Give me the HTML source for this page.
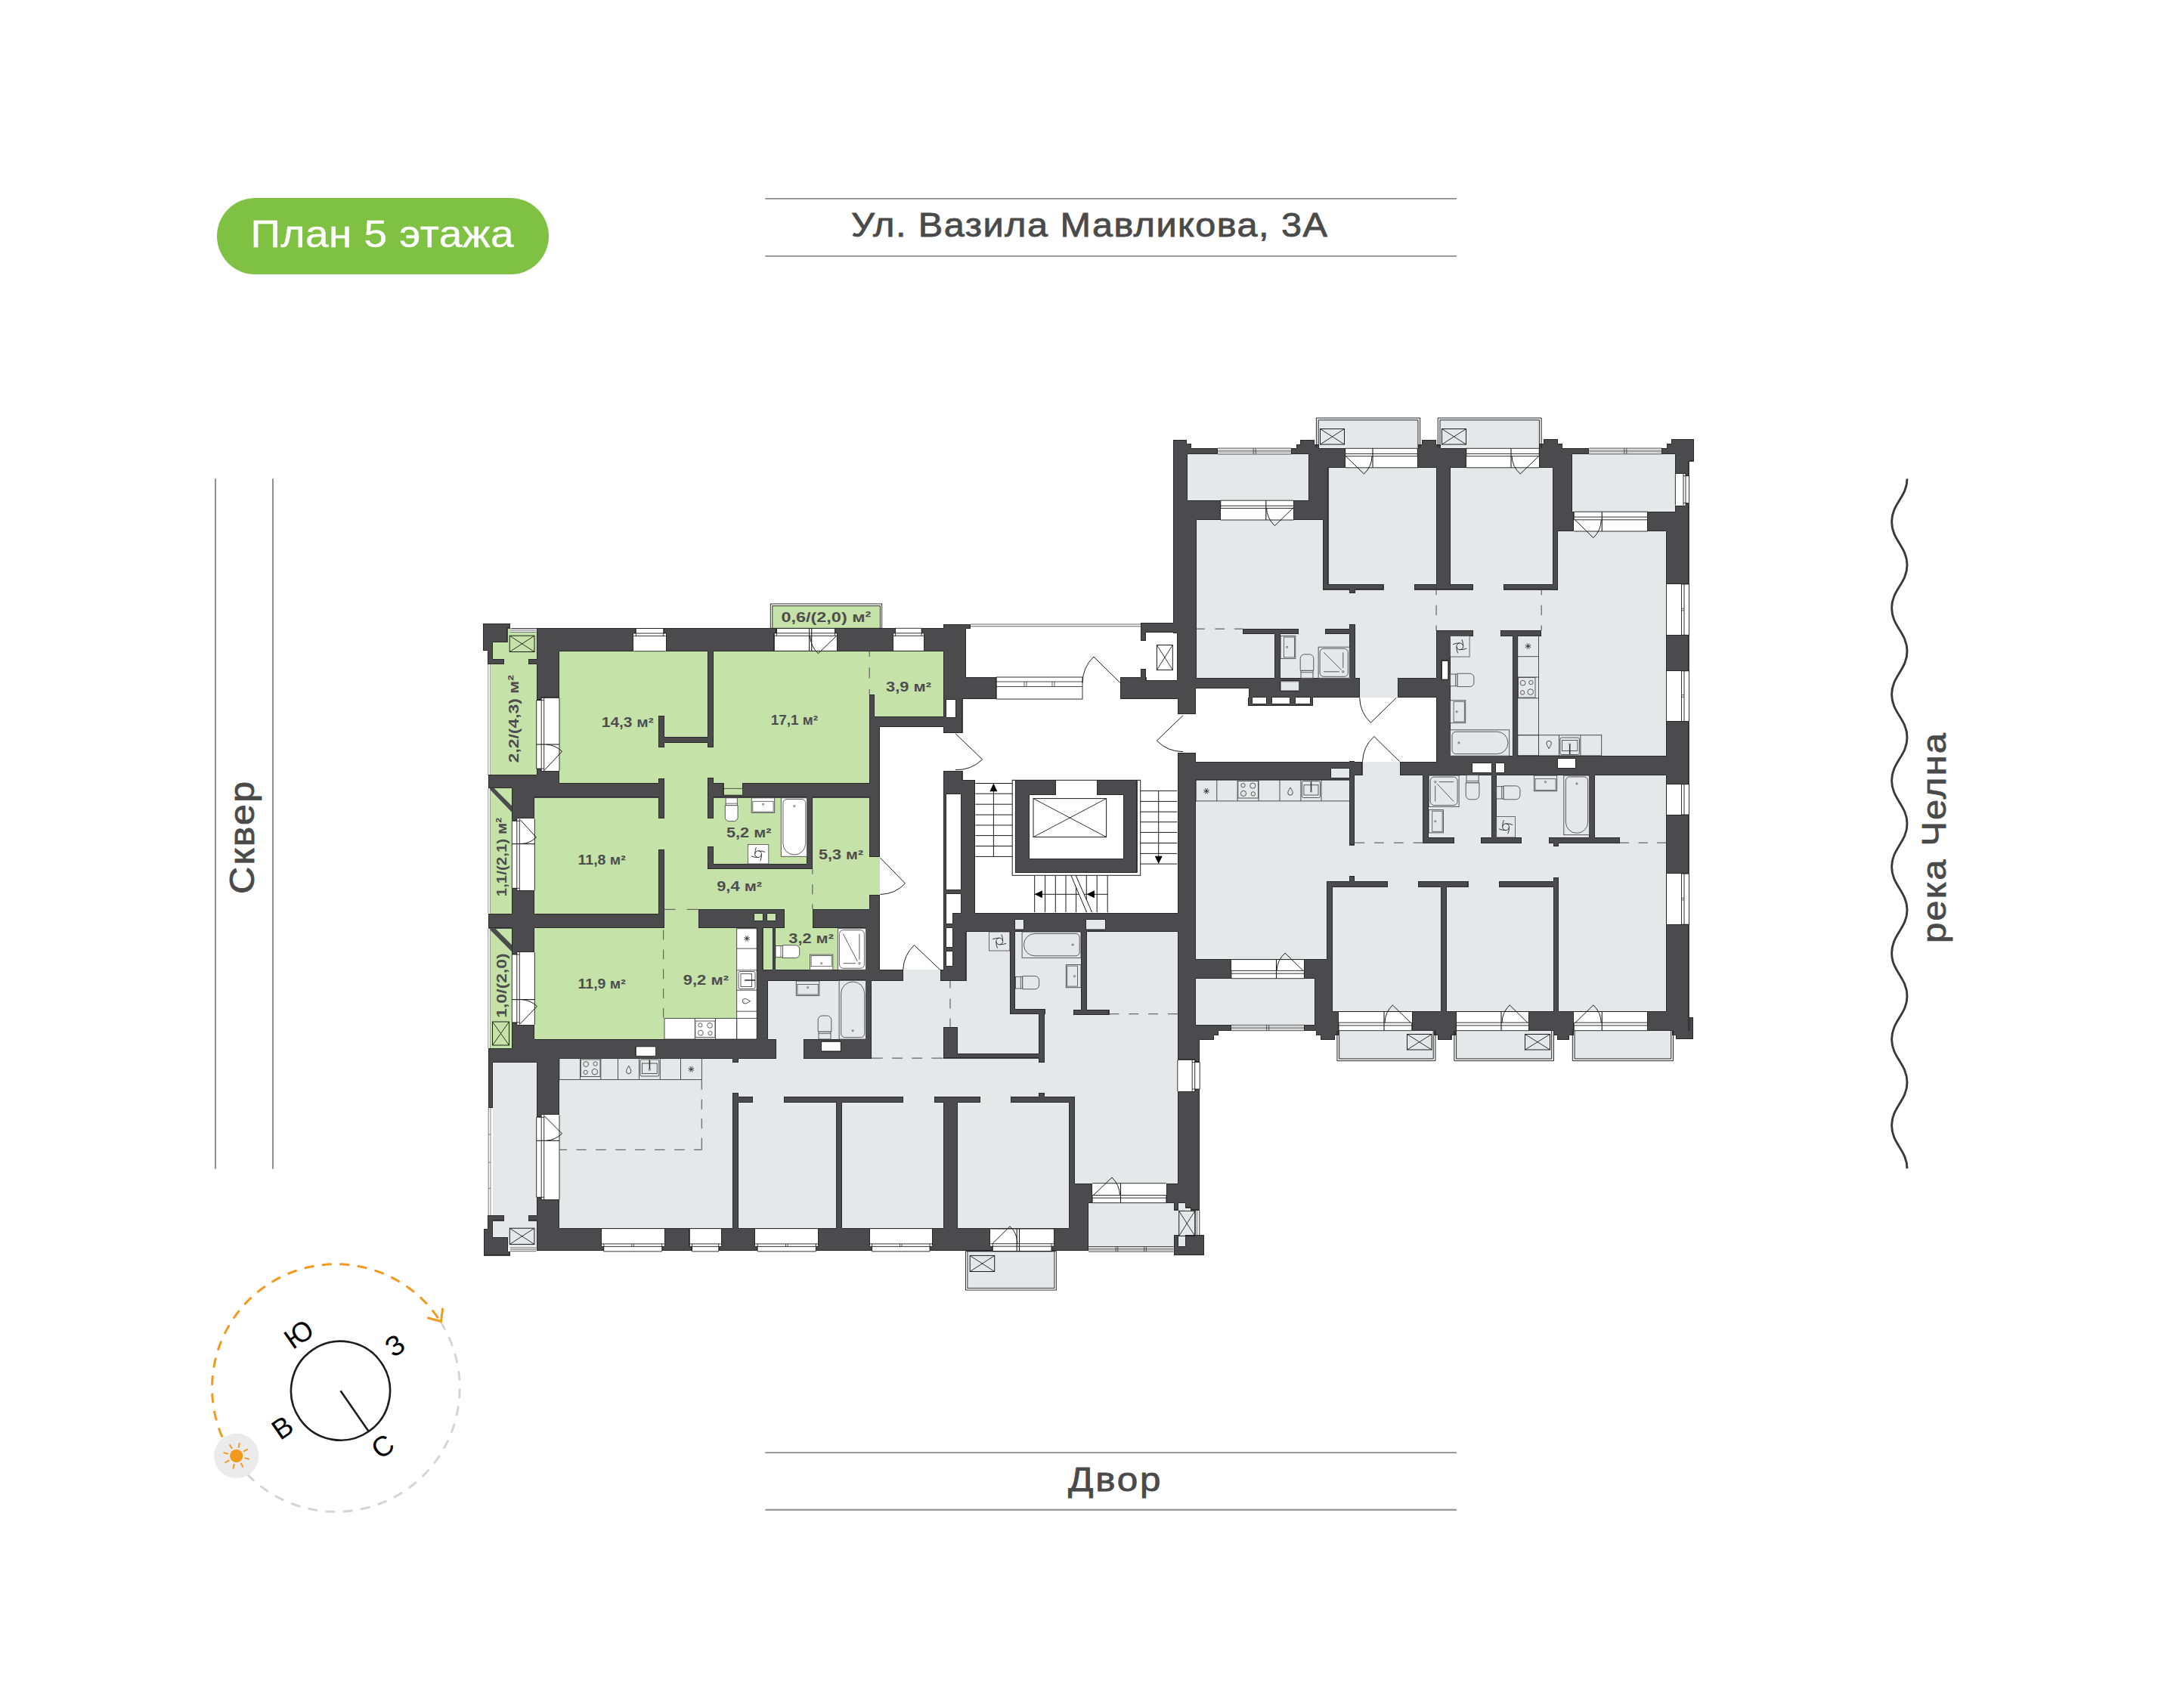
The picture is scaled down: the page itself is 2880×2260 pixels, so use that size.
<!DOCTYPE html>
<html lang="ru"><head><meta charset="utf-8"><title>План 5 этажа</title>
<style>
html,body{margin:0;padding:0;background:#fff;}
body{width:2880px;height:2260px;overflow:hidden;font-family:"Liberation Sans",sans-serif;}
svg{display:block}
svg text{font-family:"Liberation Sans",sans-serif;}
</style></head><body>
<svg width="2880" height="2260" viewBox="0 0 2880 2260">
<rect x="287" y="262" width="439" height="101" rx="50.5" fill="#7fc143"/>
<text transform="translate(331.5,326.8) rotate(0) scale(1.1,1)" font-size="50" font-weight="400" fill="#fff" stroke="#fff" stroke-width="0.4" stroke-linejoin="round" textLength="316.4" lengthAdjust="spacing">План 5 этажа</text>
<line x1="1012.4" y1="262.9" x2="1927" y2="262.9" stroke="#8c8c8c" stroke-width="1.9"/>
<line x1="1012.4" y1="338.9" x2="1927" y2="338.9" stroke="#8c8c8c" stroke-width="1.9"/>
<text transform="translate(1126,313.3) rotate(0) scale(1.1,1)" font-size="44.2" font-weight="400" fill="#4a4a4a" stroke="#4a4a4a" stroke-width="0.8" stroke-linejoin="round" textLength="572.7" lengthAdjust="spacing">Ул. Вазила Мавликова, 3А</text>
<line x1="1012.4" y1="1922.1" x2="1927" y2="1922.1" stroke="#8c8c8c" stroke-width="1.9"/>
<line x1="1012.4" y1="1997.8" x2="1927" y2="1997.8" stroke="#8c8c8c" stroke-width="1.9"/>
<text transform="translate(1413,1972.6) rotate(0) scale(1.12,1)" font-size="44.2" font-weight="400" fill="#4a4a4a" stroke="#4a4a4a" stroke-width="0.8" stroke-linejoin="round" textLength="109.4" lengthAdjust="spacing">Двор</text>
<line x1="285" y1="633.2" x2="285" y2="1546.7" stroke="#8c8c8c" stroke-width="1.9"/>
<line x1="361" y1="633.2" x2="361" y2="1546.7" stroke="#8c8c8c" stroke-width="1.9"/>
<text transform="translate(336,1183) rotate(-90) scale(1.1,1)" font-size="45.5" font-weight="400" fill="#4a4a4a" stroke="#4a4a4a" stroke-width="0.8" stroke-linejoin="round" textLength="135.5" lengthAdjust="spacing">Сквер</text>
<text transform="translate(2574,1248) rotate(-90) scale(1.1,1)" font-size="44.6" font-weight="400" fill="#4a4a4a" stroke="#4a4a4a" stroke-width="0.8" stroke-linejoin="round" textLength="252.7" lengthAdjust="spacing">река Челна</text>
<path d="M2523 633.5 C2523 657.5 2502.6 666.5 2502.6 690.5 C2502.6 714.5 2523 723.5 2523 747.6 C2523 771.6 2502.6 780.6 2502.6 804.6 C2502.6 828.6 2523 837.6 2523 861.7 C2523 885.7 2502.6 894.7 2502.6 918.8 C2502.6 942.8 2523 951.8 2523 975.8 C2523 999.8 2502.6 1008.8 2502.6 1032.9 C2502.6 1056.9 2523 1065.9 2523 1089.9 C2523 1113.9 2502.6 1122.9 2502.6 1147.0 C2502.6 1171.0 2523 1180.0 2523 1204.0 C2523 1228.0 2502.6 1237.0 2502.6 1261.0 C2502.6 1285.0 2523 1294.0 2523 1318.1 C2523 1342.1 2502.6 1351.1 2502.6 1375.1 C2502.6 1399.1 2523 1408.1 2523 1432.2 C2523 1456.2 2502.6 1465.2 2502.6 1489.2 C2502.6 1513.2 2523 1522.2 2523 1546.3" fill="none" stroke="#3a3a3a" stroke-width="2.9" stroke-linecap="butt"/>
<path d="M583.2 1749.6 A163.8 163.8 0 0 1 309.1 1928.9" fill="none" stroke="#d4d4d4" stroke-width="2.9" stroke-dasharray="10.5 12.9" stroke-linecap="round"/>
<path d="M309.1 1928.9 A163.8 163.8 0 1 1 583.2 1749.6" fill="none" stroke="#f39a1e" stroke-width="3" stroke-dasharray="10.5 13" stroke-dashoffset="-9" stroke-linecap="round"/>
<circle cx="312.7" cy="1926.3" r="29.6" fill="#ebebeb"/>
<circle cx="312.7" cy="1926.3" r="8.6" fill="#f39a1e"/>
<line x1="323.4" y1="1929.1" x2="329.9" y2="1930.7" stroke="#f39a1e" stroke-width="2"/>
<line x1="318.4" y1="1935.8" x2="321.8" y2="1941.6" stroke="#f39a1e" stroke-width="2"/>
<line x1="310" y1="1937.1" x2="308.4" y2="1943.6" stroke="#f39a1e" stroke-width="2"/>
<line x1="303.3" y1="1932.1" x2="297.5" y2="1935.5" stroke="#f39a1e" stroke-width="2"/>
<line x1="302" y1="1923.7" x2="295.5" y2="1922.1" stroke="#f39a1e" stroke-width="2"/>
<line x1="307" y1="1917" x2="303.6" y2="1911.2" stroke="#f39a1e" stroke-width="2"/>
<line x1="315.4" y1="1915.7" x2="317" y2="1909.2" stroke="#f39a1e" stroke-width="2"/>
<line x1="322.1" y1="1920.7" x2="327.9" y2="1917.3" stroke="#f39a1e" stroke-width="2"/>
<path d="M566.5 1744 L583.5 1748.5 L585.5 1732" fill="none" stroke="#f39a1e" stroke-width="3" stroke-linecap="round" stroke-linejoin="round"/>
<g transform="translate(450.5,1840.2) rotate(-34.7)">
<circle cx="0" cy="0" r="65.5" fill="none" stroke="#1d1d1b" stroke-width="2.6"/>
<line x1="0" y1="0" x2="0" y2="64.7" stroke="#1d1d1b" stroke-width="2.6"/>
<text x="-2.6" y="-80.2" font-size="37" text-anchor="middle" fill="#000">Ю</text>
<text x="3.8" y="105" font-size="37" text-anchor="middle" fill="#000">С</text>
<text x="-90.9" y="9.2" font-size="37" text-anchor="middle" fill="#000">В</text>
<text x="93.3" y="4.5" font-size="37" text-anchor="middle" fill="#000">З</text>
</g>
<rect x="677.3" y="831.4" width="570.3" height="824" fill="#4b4b4d" shape-rendering="crispEdges"/>
<rect x="1247.6" y="825.6" width="30.3" height="144" fill="#4b4b4d" shape-rendering="crispEdges"/>
<rect x="1249.7" y="825.6" width="34.7" height="6.7" fill="#4b4b4d" shape-rendering="crispEdges"/>
<rect x="1247.6" y="896" width="70.6" height="29" fill="#4b4b4d" shape-rendering="crispEdges"/>
<rect x="1247.6" y="925" width="25.9" height="44.6" fill="#4b4b4d" shape-rendering="crispEdges"/>
<rect x="1482" y="896" width="75.8" height="29" fill="#4b4b4d" shape-rendering="crispEdges"/>
<rect x="1509.3" y="824" width="44.1" height="13.3" fill="#4b4b4d" shape-rendering="crispEdges"/>
<rect x="1509.3" y="824" width="6.7" height="24.2" fill="#4b4b4d" shape-rendering="crispEdges"/>
<rect x="1509.3" y="885" width="6.7" height="11" fill="#4b4b4d" shape-rendering="crispEdges"/>
<rect x="1247.6" y="1019.6" width="25.9" height="12.6" fill="#4b4b4d" shape-rendering="crispEdges"/>
<rect x="1247.6" y="1032.2" width="42.6" height="175.5" fill="#4b4b4d" shape-rendering="crispEdges"/>
<rect x="1247.6" y="1207.7" width="310.2" height="447.7" fill="#4b4b4d" shape-rendering="crispEdges"/>
<rect x="1557.8" y="1363.7" width="29.4" height="227.9" fill="#4b4b4d" shape-rendering="crispEdges"/>
<rect x="1542.2" y="1565.7" width="45" height="25.9" fill="#4b4b4d" shape-rendering="crispEdges"/>
<rect x="1343.2" y="1032.2" width="161.1" height="122.6" fill="#4b4b4d" shape-rendering="crispEdges"/>
<rect x="1552.3" y="593.1" width="682.2" height="770.7" fill="#4b4b4d" shape-rendering="crispEdges"/>
<rect x="1552.3" y="581.9" width="17.5" height="18.1" fill="#4b4b4d" shape-rendering="crispEdges"/>
<rect x="1569.8" y="587" width="6" height="6.2" fill="#4b4b4d" shape-rendering="crispEdges"/>
<rect x="1557.8" y="944.6" width="24.4" height="419.1" fill="#4b4b4d" shape-rendering="crispEdges"/>
<rect x="1163.9" y="962" width="83.7" height="321" fill="#ffffff" shape-rendering="crispEdges"/>
<rect x="1273.5" y="925" width="284.3" height="107.2" fill="#ffffff" shape-rendering="crispEdges"/>
<rect x="1290.2" y="1032.2" width="53" height="175.5" fill="#ffffff" shape-rendering="crispEdges"/>
<rect x="1273.5" y="1019.6" width="69.7" height="12.6" fill="#ffffff" shape-rendering="crispEdges"/>
<rect x="1504.3" y="1032.2" width="53.5" height="175.5" fill="#ffffff" shape-rendering="crispEdges"/>
<rect x="1343.2" y="1154.8" width="161.1" height="52.9" fill="#ffffff" shape-rendering="crispEdges"/>
<rect x="1247.6" y="969.6" width="42.6" height="50" fill="#ffffff" shape-rendering="crispEdges"/>
<rect x="1582.2" y="930.9" width="68.9" height="3.5" fill="#4b4b4d" shape-rendering="crispEdges"/>
<rect x="1557.8" y="944.6" width="24.4" height="51.4" fill="#ffffff" shape-rendering="crispEdges"/>
<rect x="1582.2" y="923.3" width="317.9" height="84.4" fill="#ffffff" shape-rendering="crispEdges"/>
<rect x="1582.2" y="910.8" width="69.6" height="20.6" fill="#ffffff" shape-rendering="crispEdges"/>
<rect x="1318.2" y="896" width="163.8" height="29" fill="#ffffff" shape-rendering="crispEdges"/>
<rect x="1516.5" y="837.7" width="40.7" height="62.3" fill="#ffffff" shape-rendering="crispEdges"/>
<rect x="1396.7" y="1032.2" width="54.3" height="19.8" fill="#ffffff" shape-rendering="crispEdges"/>
<rect x="1361.7" y="1052" width="124" height="84.3" fill="#ffffff" shape-rendering="crispEdges"/>
<rect x="652.2" y="831.5" width="57.5" height="47.2" fill="#c5e3a8" shape-rendering="crispEdges"/>
<rect x="648.6" y="878.7" width="61.1" height="146.8" fill="#c5e3a8" shape-rendering="crispEdges"/>
<rect x="648" y="1043" width="29.3" height="165.6" fill="#c5e3a8" shape-rendering="crispEdges"/>
<rect x="648" y="1228.5" width="29.3" height="158.8" fill="#c5e3a8" shape-rendering="crispEdges"/>
<rect x="740" y="861.7" width="507.6" height="86.8" fill="#c5e3a8" shape-rendering="crispEdges"/>
<rect x="740" y="861.7" width="410" height="174.1" fill="#c5e3a8" shape-rendering="crispEdges"/>
<rect x="878.7" y="1035.8" width="57.3" height="19.7" fill="#c5e3a8" shape-rendering="crispEdges"/>
<rect x="707.3" y="1055.5" width="442.7" height="147.8" fill="#c5e3a8" shape-rendering="crispEdges"/>
<rect x="707.3" y="1203.3" width="164.1" height="5.3" fill="#c5e3a8" shape-rendering="crispEdges"/>
<rect x="878.7" y="1203.3" width="45" height="25" fill="#c5e3a8" shape-rendering="crispEdges"/>
<rect x="1038.3" y="1203.3" width="36.5" height="25" fill="#c5e3a8" shape-rendering="crispEdges"/>
<rect x="707.3" y="1228.3" width="294" height="146.3" fill="#c5e3a8" shape-rendering="crispEdges"/>
<rect x="1009.5" y="1228.3" width="12.5" height="54.6" fill="#c5e3a8" shape-rendering="crispEdges"/>
<rect x="1026.3" y="1228.3" width="119" height="54.6" fill="#c5e3a8" shape-rendering="crispEdges"/>
<rect x="1150" y="1133.6" width="13.9" height="50.6" fill="#c5e3a8" shape-rendering="crispEdges"/>
<rect x="997.8" y="1208.6" width="10.8" height="9.4" fill="#c5e3a8" shape-rendering="crispEdges"/>
<rect x="1014.8" y="1208.6" width="10.9" height="9.4" fill="#c5e3a8" shape-rendering="crispEdges"/>
<rect x="957.5" y="1035.8" width="25" height="15.7" fill="#c5e3a8" shape-rendering="crispEdges"/>
<rect x="936" y="861.7" width="8" height="127.6" fill="#4b4b4d" shape-rendering="crispEdges"/>
<rect x="871.4" y="947" width="7.3" height="42.3" fill="#4b4b4d" shape-rendering="crispEdges"/>
<rect x="871.4" y="975.5" width="72.6" height="7.5" fill="#4b4b4d" shape-rendering="crispEdges"/>
<rect x="1150" y="919" width="7" height="29.5" fill="#4b4b4d" shape-rendering="crispEdges"/>
<rect x="871.4" y="1030" width="7.3" height="53.4" fill="#4b4b4d" shape-rendering="crispEdges"/>
<rect x="871.4" y="1124.5" width="7.3" height="87.1" fill="#4b4b4d" shape-rendering="crispEdges"/>
<rect x="936" y="1029.3" width="8" height="54.1" fill="#4b4b4d" shape-rendering="crispEdges"/>
<rect x="936" y="1120.4" width="8" height="29.6" fill="#4b4b4d" shape-rendering="crispEdges"/>
<rect x="936" y="1143" width="138.8" height="7" fill="#4b4b4d" shape-rendering="crispEdges"/>
<rect x="1067.4" y="1055.5" width="7.4" height="94.5" fill="#4b4b4d" shape-rendering="crispEdges"/>
<rect x="1001.3" y="1218" width="8.2" height="64.9" fill="#4b4b4d" shape-rendering="crispEdges"/>
<rect x="1022" y="1218" width="4.3" height="64.9" fill="#4b4b4d" shape-rendering="crispEdges"/>
<rect x="639.4" y="825.5" width="35.3" height="6" fill="#4b4b4d" shape-rendering="crispEdges"/>
<rect x="639.4" y="825.5" width="6.1" height="35.4" fill="#4b4b4d" shape-rendering="crispEdges"/>
<rect x="645.5" y="831.5" width="6.7" height="47.2" fill="#4b4b4d" shape-rendering="crispEdges"/>
<rect x="652.2" y="831.5" width="19.3" height="18.2" fill="#4b4b4d" shape-rendering="crispEdges"/>
<rect x="652.2" y="871.7" width="14.8" height="7" fill="#4b4b4d" shape-rendering="crispEdges"/>
<rect x="698.7" y="871.7" width="11" height="7" fill="#4b4b4d" shape-rendering="crispEdges"/>
<rect x="646.5" y="1025.5" width="30.8" height="17.5" fill="#4b4b4d" shape-rendering="crispEdges"/>
<rect x="646.5" y="1208.6" width="30.8" height="19.9" fill="#4b4b4d" shape-rendering="crispEdges"/>
<rect x="646.5" y="1387.3" width="30.8" height="18.5" fill="#4b4b4d" shape-rendering="crispEdges"/>
<path d="M646.5 1035.8 L677.3 1066.6 V1075 L646.5 1043Z" fill="#4b4b4d"/>
<path d="M646.5 1219.7 L677.3 1250.5 V1259.4 L646.5 1228.5Z" fill="#4b4b4d"/>
<rect x="645.6" y="878.7" width="2.8" height="146.8" fill="#ffffff" shape-rendering="crispEdges"/>
<line x1="645.8" y1="878.7" x2="645.8" y2="1025.5" stroke="#777" stroke-width="0.8"/>
<line x1="648.4" y1="878.7" x2="648.4" y2="1025.5" stroke="#777" stroke-width="0.7"/>
<rect x="645.6" y="1043" width="2.8" height="165.6" fill="#ffffff" shape-rendering="crispEdges"/>
<line x1="645.8" y1="1043" x2="645.8" y2="1208.6" stroke="#777" stroke-width="0.8"/>
<line x1="648.4" y1="1043" x2="648.4" y2="1208.6" stroke="#777" stroke-width="0.7"/>
<rect x="645.6" y="1228.5" width="2.8" height="158.8" fill="#ffffff" shape-rendering="crispEdges"/>
<line x1="645.8" y1="1228.5" x2="645.8" y2="1387.3" stroke="#777" stroke-width="0.8"/>
<line x1="648.4" y1="1228.5" x2="648.4" y2="1387.3" stroke="#777" stroke-width="0.7"/>
<rect x="645.8" y="1405.5" width="6.7" height="60.1" fill="#4b4b4d" shape-rendering="crispEdges"/>
<rect x="645.8" y="1465.6" width="6.7" height="142.8" fill="#ffffff" shape-rendering="crispEdges"/>
<line x1="646.2" y1="1465.6" x2="646.2" y2="1608.4" stroke="#555" stroke-width="0.8"/>
<line x1="649" y1="1465.6" x2="649" y2="1608.4" stroke="#555" stroke-width="0.7"/>
<line x1="652.5" y1="1465.6" x2="652.5" y2="1608.4" stroke="#555" stroke-width="0.8"/>
<line x1="646.2" y1="1501.2" x2="649" y2="1501.2" stroke="#555" stroke-width="0.7"/>
<line x1="646.2" y1="1538.1" x2="649" y2="1538.1" stroke="#555" stroke-width="0.7"/>
<line x1="646.2" y1="1572.4" x2="649" y2="1572.4" stroke="#555" stroke-width="0.7"/>
<rect x="974.8" y="1228.5" width="26.5" height="146.1" fill="#ffffff" shape-rendering="crispEdges"/>
<rect x="878.7" y="1348.2" width="96.1" height="26.4" fill="#ffffff" shape-rendering="crispEdges"/>
<rect x="841.4" y="1385" width="25.6" height="12.5" fill="#ffffff" shape-rendering="crispEdges"/>
<rect x="652.3" y="1405.8" width="57.4" height="241.6" fill="#e6e7e8" shape-rendering="crispEdges"/>
<rect x="740" y="1401" width="229.2" height="224.4" fill="#e6e7e8" shape-rendering="crispEdges"/>
<rect x="740" y="1401" width="681.7" height="50" fill="#e6e7e8" shape-rendering="crispEdges"/>
<rect x="1152.7" y="1297.6" width="94.9" height="103.4" fill="#e6e7e8" shape-rendering="crispEdges"/>
<rect x="1194.7" y="1283" width="49.3" height="14.6" fill="#e6e7e8" shape-rendering="crispEdges"/>
<rect x="1016" y="1297.6" width="129.3" height="77" fill="#e6e7e8" shape-rendering="crispEdges"/>
<rect x="1027.2" y="1374.6" width="35.8" height="26.4" fill="#e6e7e8" shape-rendering="crispEdges"/>
<rect x="976.6" y="1458.7" width="129.9" height="166.7" fill="#e6e7e8" shape-rendering="crispEdges"/>
<rect x="1113.9" y="1458.7" width="133.7" height="166.7" fill="#e6e7e8" shape-rendering="crispEdges"/>
<rect x="995.7" y="1451" width="40.9" height="7.7" fill="#e6e7e8" shape-rendering="crispEdges"/>
<rect x="1195.3" y="1451" width="40.6" height="7.7" fill="#e6e7e8" shape-rendering="crispEdges"/>
<rect x="969.2" y="1446" width="7.4" height="12.7" fill="#4b4b4d" shape-rendering="crispEdges"/>
<rect x="969.2" y="1401" width="7.4" height="4.8" fill="#4b4b4d" shape-rendering="crispEdges"/>
<rect x="1145.3" y="1297.6" width="7.4" height="103.4" fill="#4b4b4d" shape-rendering="crispEdges"/>
<rect x="671.7" y="1637" width="38" height="14" fill="#e6e7e8" shape-rendering="crispEdges"/>
<rect x="639.9" y="1655.9" width="34.8" height="5.6" fill="#4b4b4d" shape-rendering="crispEdges"/>
<rect x="639.9" y="1626" width="5.3" height="35.5" fill="#4b4b4d" shape-rendering="crispEdges"/>
<rect x="645.2" y="1608.5" width="7.2" height="47.5" fill="#4b4b4d" shape-rendering="crispEdges"/>
<rect x="652.4" y="1608.5" width="14.7" height="7" fill="#4b4b4d" shape-rendering="crispEdges"/>
<rect x="699" y="1608.5" width="10.7" height="7" fill="#4b4b4d" shape-rendering="crispEdges"/>
<rect x="652.4" y="1637.3" width="19.3" height="18.7" fill="#4b4b4d" shape-rendering="crispEdges"/>
<rect x="674.8" y="1651" width="34.9" height="4.9" fill="#ffffff" shape-rendering="crispEdges"/>
<line x1="674.8" y1="1651.3" x2="709.7" y2="1651.3" stroke="#444" stroke-width="0.8"/>
<line x1="674.8" y1="1653.6" x2="709.7" y2="1653.6" stroke="#444" stroke-width="0.7"/>
<line x1="674.8" y1="1655.7" x2="709.7" y2="1655.7" stroke="#444" stroke-width="0.8"/>
<rect x="674.7" y="831.5" width="34.9" height="5.1" fill="#ffffff" shape-rendering="crispEdges"/>
<line x1="674.7" y1="831.8" x2="709.6" y2="831.8" stroke="#444" stroke-width="0.8"/>
<line x1="674.7" y1="834" x2="709.6" y2="834" stroke="#444" stroke-width="0.7"/>
<line x1="674.7" y1="836.4" x2="709.6" y2="836.4" stroke="#444" stroke-width="0.8"/>
<rect x="1247.6" y="1297.6" width="310.2" height="153.4" fill="#e6e7e8" shape-rendering="crispEdges"/>
<rect x="1278.5" y="1233" width="279.3" height="64.6" fill="#e6e7e8" shape-rendering="crispEdges"/>
<rect x="1421.7" y="1451" width="136.1" height="114.7" fill="#e6e7e8" shape-rendering="crispEdges"/>
<rect x="1266.7" y="1458.7" width="147.6" height="166.7" fill="#e6e7e8" shape-rendering="crispEdges"/>
<rect x="1296.7" y="1451" width="40.6" height="7.7" fill="#e6e7e8" shape-rendering="crispEdges"/>
<rect x="1335.8" y="1233" width="7.4" height="109.3" fill="#4b4b4d" shape-rendering="crispEdges"/>
<rect x="1335.8" y="1335" width="47.6" height="7.3" fill="#4b4b4d" shape-rendering="crispEdges"/>
<rect x="1374" y="1342.3" width="8" height="63.5" fill="#4b4b4d" shape-rendering="crispEdges"/>
<rect x="1266.7" y="1393.7" width="107.3" height="6.8" fill="#4b4b4d" shape-rendering="crispEdges"/>
<rect x="1247.6" y="1359.3" width="19.1" height="41.2" fill="#4b4b4d" shape-rendering="crispEdges"/>
<rect x="1430" y="1233" width="8" height="102.8" fill="#4b4b4d" shape-rendering="crispEdges"/>
<rect x="1420.5" y="1335.8" width="47" height="6.8" fill="#4b4b4d" shape-rendering="crispEdges"/>
<rect x="1374" y="1446" width="8" height="5" fill="#4b4b4d" shape-rendering="crispEdges"/>
<rect x="1439.9" y="1591.6" width="112.8" height="57.9" fill="#e6e7e8" shape-rendering="crispEdges"/>
<rect x="1552.7" y="1601.5" width="34.3" height="32.7" fill="#e6e7e8" shape-rendering="crispEdges"/>
<rect x="1559.3" y="1591.6" width="9.1" height="57" fill="#e6e7e8" shape-rendering="crispEdges"/>
<rect x="1552.7" y="1591.6" width="6.6" height="9.9" fill="#4b4b4d" shape-rendering="crispEdges"/>
<rect x="1568.4" y="1591.6" width="19" height="6.9" fill="#4b4b4d" shape-rendering="crispEdges"/>
<rect x="1575" y="1598.5" width="12.4" height="3" fill="#4b4b4d" shape-rendering="crispEdges"/>
<rect x="1552.7" y="1634.2" width="40" height="27.2" fill="#4b4b4d" shape-rendering="crispEdges"/>
<rect x="1559.3" y="1634.2" width="9.1" height="14.4" fill="#e6e7e8" shape-rendering="crispEdges"/>
<rect x="1580.8" y="1601.5" width="6.6" height="32.7" fill="#ffffff" shape-rendering="crispEdges"/>
<rect x="1279.5" y="1655.7" width="115.8" height="48.7" fill="#e6e7e8" shape-rendering="crispEdges"/>
<rect x="1342.9" y="1216.7" width="10.9" height="13.3" fill="#e6e7e8" shape-rendering="crispEdges"/>
<rect x="1436.8" y="1216.7" width="24.8" height="13.3" fill="#e6e7e8" shape-rendering="crispEdges"/>
<line x1="1342.9" y1="1230" x2="1353.8" y2="1230" stroke="#4b4b4d" stroke-width="1.2"/>
<line x1="1436.8" y1="1230" x2="1461.6" y2="1230" stroke="#4b4b4d" stroke-width="1.2"/>
<rect x="1251.6" y="1051.3" width="19.8" height="125.4" fill="#ffffff" shape-rendering="crispEdges"/>
<rect x="1251.6" y="1182.8" width="19.8" height="24.8" fill="#ffffff" shape-rendering="crispEdges"/>
<rect x="1251.6" y="1182.8" width="8.2" height="38.9" fill="#ffffff" shape-rendering="crispEdges"/>
<rect x="1251.6" y="1228" width="8.2" height="24.9" fill="#ffffff" shape-rendering="crispEdges"/>
<rect x="1251.6" y="1258.8" width="8.2" height="19.3" fill="#ffffff" shape-rendering="crispEdges"/>
<rect x="1252" y="926" width="11.8" height="23" fill="#ffffff" shape-rendering="crispEdges"/>
<rect x="1180" y="1283" width="14.7" height="14.6" fill="#4b4b4d" shape-rendering="crispEdges"/>
<rect x="1244" y="1283" width="4.2" height="14.6" fill="#4b4b4d" shape-rendering="crispEdges"/>
<rect x="1570.7" y="600.9" width="160.7" height="61.3" fill="#e6e7e8" shape-rendering="crispEdges"/>
<rect x="1582.6" y="687.9" width="167" height="92.6" fill="#e6e7e8" shape-rendering="crispEdges"/>
<rect x="1582.6" y="780.5" width="317.5" height="117" fill="#e6e7e8" shape-rendering="crispEdges"/>
<rect x="1757.5" y="619.1" width="142.6" height="154" fill="#e6e7e8" shape-rendering="crispEdges"/>
<rect x="1830.5" y="773.1" width="40.2" height="7.4" fill="#e6e7e8" shape-rendering="crispEdges"/>
<rect x="1798.7" y="897.5" width="50" height="25.8" fill="#e6e7e8" shape-rendering="crispEdges"/>
<rect x="1644.4" y="831.9" width="73.5" height="7.4" fill="#4b4b4d" shape-rendering="crispEdges"/>
<rect x="1753.1" y="831.9" width="39.7" height="7.4" fill="#4b4b4d" shape-rendering="crispEdges"/>
<rect x="1785.5" y="826" width="7.3" height="71.5" fill="#4b4b4d" shape-rendering="crispEdges"/>
<rect x="1686.1" y="839.3" width="7.7" height="58.2" fill="#4b4b4d" shape-rendering="crispEdges"/>
<rect x="1785.5" y="780.5" width="7.3" height="4.7" fill="#4b4b4d" shape-rendering="crispEdges"/>
<rect x="1918.6" y="619.1" width="135" height="154" fill="#e6e7e8" shape-rendering="crispEdges"/>
<rect x="1948.6" y="773.1" width="40.6" height="7.4" fill="#e6e7e8" shape-rendering="crispEdges"/>
<rect x="1900.1" y="780.5" width="160.8" height="53.8" fill="#e6e7e8" shape-rendering="crispEdges"/>
<rect x="1918.6" y="834.3" width="285.9" height="165.6" fill="#e6e7e8" shape-rendering="crispEdges"/>
<rect x="2039.2" y="780.5" width="165.3" height="53.8" fill="#e6e7e8" shape-rendering="crispEdges"/>
<rect x="2061" y="702.7" width="143.5" height="77.8" fill="#e6e7e8" shape-rendering="crispEdges"/>
<rect x="2079.6" y="600.7" width="136.8" height="76.5" fill="#e6e7e8" shape-rendering="crispEdges"/>
<rect x="1900.1" y="834.3" width="48.5" height="7.3" fill="#4b4b4d" shape-rendering="crispEdges"/>
<rect x="1984.8" y="834.3" width="54.4" height="7.3" fill="#4b4b4d" shape-rendering="crispEdges"/>
<rect x="2000.7" y="841.6" width="7.3" height="158.2" fill="#4b4b4d" shape-rendering="crispEdges"/>
<rect x="2053.6" y="780.5" width="7.3" height="0.1" fill="#4b4b4d" shape-rendering="crispEdges"/>
<rect x="1651.1" y="923.3" width="85.9" height="10.9" fill="#4b4b4d" shape-rendering="crispEdges"/>
<rect x="1657" y="923.3" width="18.5" height="8.1" fill="#ffffff" shape-rendering="crispEdges"/>
<rect x="1683" y="923.3" width="23.5" height="8.1" fill="#ffffff" shape-rendering="crispEdges"/>
<rect x="1714" y="923.3" width="19.5" height="8.1" fill="#ffffff" shape-rendering="crispEdges"/>
<rect x="1693.9" y="901.4" width="24.6" height="12.4" fill="#ffffff" shape-rendering="crispEdges"/>
<rect x="1582.2" y="1032.2" width="210.1" height="83.5" fill="#e6e7e8" shape-rendering="crispEdges"/>
<rect x="1792.3" y="1025.6" width="412.1" height="90.1" fill="#e6e7e8" shape-rendering="crispEdges"/>
<rect x="1802.5" y="1007.7" width="49.9" height="17.9" fill="#e6e7e8" shape-rendering="crispEdges"/>
<rect x="1582.2" y="1115.7" width="622.2" height="50.2" fill="#e6e7e8" shape-rendering="crispEdges"/>
<rect x="1582.2" y="1165.9" width="172.5" height="103.1" fill="#e6e7e8" shape-rendering="crispEdges"/>
<rect x="1762.6" y="1173.6" width="143.6" height="164.5" fill="#e6e7e8" shape-rendering="crispEdges"/>
<rect x="1913.6" y="1173.6" width="141.4" height="164.5" fill="#e6e7e8" shape-rendering="crispEdges"/>
<rect x="2062.4" y="1165.9" width="142" height="172.2" fill="#e6e7e8" shape-rendering="crispEdges"/>
<rect x="1835.6" y="1165.9" width="40.8" height="7.7" fill="#e6e7e8" shape-rendering="crispEdges"/>
<rect x="1942.5" y="1165.9" width="40.5" height="7.7" fill="#e6e7e8" shape-rendering="crispEdges"/>
<rect x="1582.2" y="1295.2" width="157.2" height="61.2" fill="#e6e7e8" shape-rendering="crispEdges"/>
<rect x="1785.4" y="1007.4" width="6.9" height="111.1" fill="#4b4b4d" shape-rendering="crispEdges"/>
<rect x="1785.4" y="1159" width="6.9" height="6.9" fill="#4b4b4d" shape-rendering="crispEdges"/>
<rect x="1755.1" y="1165.9" width="7.5" height="172.2" fill="#4b4b4d" shape-rendering="crispEdges"/>
<rect x="1882.5" y="1025.6" width="7.1" height="90.1" fill="#4b4b4d" shape-rendering="crispEdges"/>
<rect x="1882.5" y="1108.3" width="41.3" height="7.4" fill="#4b4b4d" shape-rendering="crispEdges"/>
<rect x="1972.9" y="1025.6" width="6.8" height="90.1" fill="#4b4b4d" shape-rendering="crispEdges"/>
<rect x="1959" y="1108.3" width="53.8" height="7.4" fill="#4b4b4d" shape-rendering="crispEdges"/>
<rect x="2102.4" y="1025.6" width="7.4" height="90.1" fill="#4b4b4d" shape-rendering="crispEdges"/>
<rect x="2049.5" y="1108.3" width="93.4" height="7.4" fill="#4b4b4d" shape-rendering="crispEdges"/>
<rect x="2055" y="1115.7" width="7.4" height="4.7" fill="#4b4b4d" shape-rendering="crispEdges"/>
<rect x="2055" y="1161.2" width="7.4" height="12.4" fill="#4b4b4d" shape-rendering="crispEdges"/>
<rect x="1760.7" y="1016.9" width="24.2" height="12.1" fill="#e6e7e8" shape-rendering="crispEdges"/>
<rect x="1948" y="1010.2" width="24.9" height="11.8" fill="#ffffff" shape-rendering="crispEdges"/>
<rect x="1978.9" y="1010.2" width="11.1" height="11.8" fill="#ffffff" shape-rendering="crispEdges"/>
<rect x="2061" y="1004" width="23.5" height="12" fill="#ffffff" shape-rendering="crispEdges"/>
<rect x="1741.4" y="553" width="137.3" height="39.6" fill="#e6e7e8" shape-rendering="crispEdges"/>
<rect x="1902.2" y="553" width="137" height="39.6" fill="#e6e7e8" shape-rendering="crispEdges"/>
<rect x="1768.9" y="1363.8" width="130.1" height="39.9" fill="#e6e7e8" shape-rendering="crispEdges"/>
<rect x="1923.8" y="1363.8" width="131.7" height="39.9" fill="#e6e7e8" shape-rendering="crispEdges"/>
<rect x="2080.3" y="1363.8" width="133.2" height="39.9" fill="#e6e7e8" shape-rendering="crispEdges"/>
<rect x="838.4" y="838" width="42.3" height="23.7" fill="#ffffff" shape-rendering="crispEdges"/>
<rect x="841.4" y="831.5" width="36.3" height="6.5" fill="#ffffff" shape-rendering="crispEdges"/>
<line x1="838.4" y1="838" x2="880.7" y2="838" stroke="#1c1c1c" stroke-width="0.9"/>
<line x1="838.4" y1="841.5" x2="880.7" y2="841.5" stroke="#1c1c1c" stroke-width="0.9"/>
<line x1="841.4" y1="831.5" x2="877.7" y2="831.5" stroke="#1c1c1c" stroke-width="0.9"/>
<line x1="838.4" y1="861.7" x2="880.7" y2="861.7" stroke="#1c1c1c" stroke-width="0.9"/>
<line x1="841.4" y1="831.5" x2="841.4" y2="841.5" stroke="#1c1c1c" stroke-width="0.8"/>
<line x1="877.7" y1="831.5" x2="877.7" y2="841.5" stroke="#1c1c1c" stroke-width="0.8"/>
<rect x="1024.5" y="837.8" width="83" height="23.6" fill="#ffffff" shape-rendering="crispEdges"/>
<rect x="1027.5" y="831.3" width="77" height="6.5" fill="#ffffff" shape-rendering="crispEdges"/>
<line x1="1024.5" y1="837.8" x2="1107.5" y2="837.8" stroke="#1c1c1c" stroke-width="0.9"/>
<line x1="1024.5" y1="841.3" x2="1107.5" y2="841.3" stroke="#1c1c1c" stroke-width="0.9"/>
<line x1="1027.5" y1="831.3" x2="1104.5" y2="831.3" stroke="#1c1c1c" stroke-width="0.9"/>
<line x1="1024.5" y1="861.4" x2="1107.5" y2="861.4" stroke="#1c1c1c" stroke-width="0.9"/>
<line x1="1027.5" y1="831.3" x2="1027.5" y2="841.3" stroke="#1c1c1c" stroke-width="0.8"/>
<line x1="1104.5" y1="831.3" x2="1104.5" y2="841.3" stroke="#1c1c1c" stroke-width="0.8"/>
<line x1="1070.6" y1="831.3" x2="1070.6" y2="861.4" stroke="#1c1c1c" stroke-width="1.1"/>
<line x1="1073.7" y1="831.3" x2="1073.7" y2="861.4" stroke="#1c1c1c" stroke-width="1.1"/>
<path d="M1106.8 841.3 L1082.4 864.7 A33.8 33.8 0 0 1 1071.7 841.3" fill="none" stroke="#1c1c1c" stroke-width="1"/>
<rect x="1181.6" y="837.8" width="40.5" height="23.6" fill="#ffffff" shape-rendering="crispEdges"/>
<rect x="1184.6" y="831.3" width="34.5" height="6.5" fill="#ffffff" shape-rendering="crispEdges"/>
<line x1="1181.6" y1="837.8" x2="1222.1" y2="837.8" stroke="#1c1c1c" stroke-width="0.9"/>
<line x1="1181.6" y1="841.3" x2="1222.1" y2="841.3" stroke="#1c1c1c" stroke-width="0.9"/>
<line x1="1184.6" y1="831.3" x2="1219.1" y2="831.3" stroke="#1c1c1c" stroke-width="0.9"/>
<line x1="1181.6" y1="861.4" x2="1222.1" y2="861.4" stroke="#1c1c1c" stroke-width="0.9"/>
<line x1="1184.6" y1="831.3" x2="1184.6" y2="841.3" stroke="#1c1c1c" stroke-width="0.8"/>
<line x1="1219.1" y1="831.3" x2="1219.1" y2="841.3" stroke="#1c1c1c" stroke-width="0.8"/>
<rect x="1019.3" y="799" width="147.4" height="32.3" fill="#ffffff" stroke="#1c1c1c" stroke-width="0.9"/>
<rect x="1021.8" y="801.7" width="142.6" height="29.6" fill="#c5e3a8" stroke="#1c1c1c" stroke-width="0.9"/>
<rect x="716.2" y="923.5" width="23.8" height="96.5" fill="#ffffff" shape-rendering="crispEdges"/>
<rect x="709.7" y="926.5" width="6.5" height="90.5" fill="#ffffff" shape-rendering="crispEdges"/>
<line x1="716.2" y1="923.5" x2="716.2" y2="1020" stroke="#1c1c1c" stroke-width="0.9"/>
<line x1="719.7" y1="923.5" x2="719.7" y2="1020" stroke="#1c1c1c" stroke-width="0.9"/>
<line x1="709.7" y1="926.5" x2="709.7" y2="1017" stroke="#1c1c1c" stroke-width="0.9"/>
<line x1="740" y1="923.5" x2="740" y2="1020" stroke="#1c1c1c" stroke-width="0.9"/>
<line x1="709.7" y1="926.5" x2="719.7" y2="926.5" stroke="#1c1c1c" stroke-width="0.8"/>
<line x1="709.7" y1="1017" x2="719.7" y2="1017" stroke="#1c1c1c" stroke-width="0.8"/>
<line x1="709.7" y1="985" x2="740" y2="985" stroke="#1c1c1c" stroke-width="1.1"/>
<path d="M720.0 1019.4 L743.5 994.2 A34.5 34.5 0 0 0 723.0 985.0" fill="none" stroke="#1c1c1c" stroke-width="1"/>
<rect x="683.8" y="1083.4" width="23.5" height="94.9" fill="#ffffff" shape-rendering="crispEdges"/>
<rect x="677.3" y="1086.4" width="6.5" height="88.9" fill="#ffffff" shape-rendering="crispEdges"/>
<line x1="683.8" y1="1083.4" x2="683.8" y2="1178.3" stroke="#1c1c1c" stroke-width="0.9"/>
<line x1="687.3" y1="1083.4" x2="687.3" y2="1178.3" stroke="#1c1c1c" stroke-width="0.9"/>
<line x1="677.3" y1="1086.4" x2="677.3" y2="1175.3" stroke="#1c1c1c" stroke-width="0.9"/>
<line x1="707.3" y1="1083.4" x2="707.3" y2="1178.3" stroke="#1c1c1c" stroke-width="0.9"/>
<line x1="677.3" y1="1086.4" x2="687.3" y2="1086.4" stroke="#1c1c1c" stroke-width="0.8"/>
<line x1="677.3" y1="1175.3" x2="687.3" y2="1175.3" stroke="#1c1c1c" stroke-width="0.8"/>
<line x1="677.3" y1="1116.6" x2="707.3" y2="1116.6" stroke="#1c1c1c" stroke-width="1.1"/>
<path d="M688.0 1084.5 L709.5 1108.0 A31.9 31.9 0 0 1 690.0 1116.6" fill="none" stroke="#1c1c1c" stroke-width="1"/>
<rect x="683.8" y="1260" width="23.5" height="95.8" fill="#ffffff" shape-rendering="crispEdges"/>
<rect x="677.3" y="1263" width="6.5" height="89.8" fill="#ffffff" shape-rendering="crispEdges"/>
<line x1="683.8" y1="1260" x2="683.8" y2="1355.8" stroke="#1c1c1c" stroke-width="0.9"/>
<line x1="687.3" y1="1260" x2="687.3" y2="1355.8" stroke="#1c1c1c" stroke-width="0.9"/>
<line x1="677.3" y1="1263" x2="677.3" y2="1352.8" stroke="#1c1c1c" stroke-width="0.9"/>
<line x1="707.3" y1="1260" x2="707.3" y2="1355.8" stroke="#1c1c1c" stroke-width="0.9"/>
<line x1="677.3" y1="1263" x2="687.3" y2="1263" stroke="#1c1c1c" stroke-width="0.8"/>
<line x1="677.3" y1="1352.8" x2="687.3" y2="1352.8" stroke="#1c1c1c" stroke-width="0.8"/>
<line x1="677.3" y1="1322.6" x2="707.3" y2="1322.6" stroke="#1c1c1c" stroke-width="1.1"/>
<path d="M688.0 1354.8 L710.5 1331.5 A32.4 32.4 0 0 0 690.0 1322.6" fill="none" stroke="#1c1c1c" stroke-width="1"/>
<rect x="716.2" y="1475.4" width="23.8" height="111.8" fill="#ffffff" shape-rendering="crispEdges"/>
<rect x="709.7" y="1478.4" width="6.5" height="105.8" fill="#ffffff" shape-rendering="crispEdges"/>
<line x1="716.2" y1="1475.4" x2="716.2" y2="1587.2" stroke="#1c1c1c" stroke-width="0.9"/>
<line x1="719.7" y1="1475.4" x2="719.7" y2="1587.2" stroke="#1c1c1c" stroke-width="0.9"/>
<line x1="709.7" y1="1478.4" x2="709.7" y2="1584.2" stroke="#1c1c1c" stroke-width="0.9"/>
<line x1="740" y1="1475.4" x2="740" y2="1587.2" stroke="#1c1c1c" stroke-width="0.9"/>
<line x1="709.7" y1="1478.4" x2="719.7" y2="1478.4" stroke="#1c1c1c" stroke-width="0.8"/>
<line x1="709.7" y1="1584.2" x2="719.7" y2="1584.2" stroke="#1c1c1c" stroke-width="0.8"/>
<line x1="709.7" y1="1509.3" x2="740" y2="1509.3" stroke="#1c1c1c" stroke-width="1.1"/>
<path d="M720.0 1476.5 L743.5 1500.0 A33.2 33.2 0 0 1 723.0 1509.3" fill="none" stroke="#1c1c1c" stroke-width="1"/>
<rect x="795.8" y="1625.6" width="82.9" height="23.8" fill="#ffffff" shape-rendering="crispEdges"/>
<rect x="798.8" y="1649.4" width="76.9" height="6.5" fill="#ffffff" shape-rendering="crispEdges"/>
<line x1="795.8" y1="1649.4" x2="878.7" y2="1649.4" stroke="#1c1c1c" stroke-width="0.9"/>
<line x1="795.8" y1="1645.9" x2="878.7" y2="1645.9" stroke="#1c1c1c" stroke-width="0.9"/>
<line x1="798.8" y1="1655.9" x2="875.7" y2="1655.9" stroke="#1c1c1c" stroke-width="0.9"/>
<line x1="795.8" y1="1625.6" x2="878.7" y2="1625.6" stroke="#1c1c1c" stroke-width="0.9"/>
<line x1="798.8" y1="1655.9" x2="798.8" y2="1645.9" stroke="#1c1c1c" stroke-width="0.8"/>
<line x1="875.7" y1="1655.9" x2="875.7" y2="1645.9" stroke="#1c1c1c" stroke-width="0.8"/>
<line x1="835.9" y1="1649.4" x2="835.9" y2="1645.9" stroke="#1c1c1c" stroke-width="0.7"/>
<line x1="838.5" y1="1649.4" x2="838.5" y2="1645.9" stroke="#1c1c1c" stroke-width="0.7"/>
<rect x="912.5" y="1625.6" width="41.2" height="23.8" fill="#ffffff" shape-rendering="crispEdges"/>
<rect x="915.5" y="1649.4" width="35.2" height="6.5" fill="#ffffff" shape-rendering="crispEdges"/>
<line x1="912.5" y1="1649.4" x2="953.7" y2="1649.4" stroke="#1c1c1c" stroke-width="0.9"/>
<line x1="912.5" y1="1645.9" x2="953.7" y2="1645.9" stroke="#1c1c1c" stroke-width="0.9"/>
<line x1="915.5" y1="1655.9" x2="950.7" y2="1655.9" stroke="#1c1c1c" stroke-width="0.9"/>
<line x1="912.5" y1="1625.6" x2="953.7" y2="1625.6" stroke="#1c1c1c" stroke-width="0.9"/>
<line x1="915.5" y1="1655.9" x2="915.5" y2="1645.9" stroke="#1c1c1c" stroke-width="0.8"/>
<line x1="950.7" y1="1655.9" x2="950.7" y2="1645.9" stroke="#1c1c1c" stroke-width="0.8"/>
<rect x="999.2" y="1625.6" width="83.2" height="23.8" fill="#ffffff" shape-rendering="crispEdges"/>
<rect x="1002.2" y="1649.4" width="77.2" height="6.5" fill="#ffffff" shape-rendering="crispEdges"/>
<line x1="999.2" y1="1649.4" x2="1082.4" y2="1649.4" stroke="#1c1c1c" stroke-width="0.9"/>
<line x1="999.2" y1="1645.9" x2="1082.4" y2="1645.9" stroke="#1c1c1c" stroke-width="0.9"/>
<line x1="1002.2" y1="1655.9" x2="1079.4" y2="1655.9" stroke="#1c1c1c" stroke-width="0.9"/>
<line x1="999.2" y1="1625.6" x2="1082.4" y2="1625.6" stroke="#1c1c1c" stroke-width="0.9"/>
<line x1="1002.2" y1="1655.9" x2="1002.2" y2="1645.9" stroke="#1c1c1c" stroke-width="0.8"/>
<line x1="1079.4" y1="1655.9" x2="1079.4" y2="1645.9" stroke="#1c1c1c" stroke-width="0.8"/>
<line x1="1039.5" y1="1649.4" x2="1039.5" y2="1645.9" stroke="#1c1c1c" stroke-width="0.7"/>
<line x1="1042.1" y1="1649.4" x2="1042.1" y2="1645.9" stroke="#1c1c1c" stroke-width="0.7"/>
<rect x="1150.6" y="1625.6" width="82.4" height="23.8" fill="#ffffff" shape-rendering="crispEdges"/>
<rect x="1153.6" y="1649.4" width="76.4" height="6.5" fill="#ffffff" shape-rendering="crispEdges"/>
<line x1="1150.6" y1="1649.4" x2="1233" y2="1649.4" stroke="#1c1c1c" stroke-width="0.9"/>
<line x1="1150.6" y1="1645.9" x2="1233" y2="1645.9" stroke="#1c1c1c" stroke-width="0.9"/>
<line x1="1153.6" y1="1655.9" x2="1230" y2="1655.9" stroke="#1c1c1c" stroke-width="0.9"/>
<line x1="1150.6" y1="1625.6" x2="1233" y2="1625.6" stroke="#1c1c1c" stroke-width="0.9"/>
<line x1="1153.6" y1="1655.9" x2="1153.6" y2="1645.9" stroke="#1c1c1c" stroke-width="0.8"/>
<line x1="1230" y1="1655.9" x2="1230" y2="1645.9" stroke="#1c1c1c" stroke-width="0.8"/>
<line x1="1190.5" y1="1649.4" x2="1190.5" y2="1645.9" stroke="#1c1c1c" stroke-width="0.7"/>
<line x1="1193.1" y1="1649.4" x2="1193.1" y2="1645.9" stroke="#1c1c1c" stroke-width="0.7"/>
<rect x="1310.4" y="1626" width="83.6" height="23.2" fill="#ffffff" shape-rendering="crispEdges"/>
<rect x="1313.4" y="1649.2" width="77.6" height="6.5" fill="#ffffff" shape-rendering="crispEdges"/>
<line x1="1310.4" y1="1649.2" x2="1394" y2="1649.2" stroke="#1c1c1c" stroke-width="0.9"/>
<line x1="1310.4" y1="1645.7" x2="1394" y2="1645.7" stroke="#1c1c1c" stroke-width="0.9"/>
<line x1="1313.4" y1="1655.7" x2="1391" y2="1655.7" stroke="#1c1c1c" stroke-width="0.9"/>
<line x1="1310.4" y1="1626" x2="1394" y2="1626" stroke="#1c1c1c" stroke-width="0.9"/>
<line x1="1313.4" y1="1655.7" x2="1313.4" y2="1645.7" stroke="#1c1c1c" stroke-width="0.8"/>
<line x1="1391" y1="1655.7" x2="1391" y2="1645.7" stroke="#1c1c1c" stroke-width="0.8"/>
<line x1="1345.2" y1="1655.7" x2="1345.2" y2="1626" stroke="#1c1c1c" stroke-width="1.1"/>
<line x1="1348.5" y1="1655.7" x2="1348.5" y2="1626" stroke="#1c1c1c" stroke-width="1.1"/>
<path d="M1313.2 1645.3 L1336.1 1622.7 A32.2 32.2 0 0 1 1346.0 1645.3" fill="none" stroke="#1c1c1c" stroke-width="1"/>
<rect x="1445.2" y="1565.7" width="97.6" height="19.4" fill="#ffffff" shape-rendering="crispEdges"/>
<rect x="1445.2" y="1585.1" width="97.6" height="6.5" fill="#ffffff" shape-rendering="crispEdges"/>
<line x1="1445.2" y1="1585.1" x2="1542.8" y2="1585.1" stroke="#1c1c1c" stroke-width="0.9"/>
<line x1="1445.2" y1="1581.5" x2="1542.8" y2="1581.5" stroke="#1c1c1c" stroke-width="0.9"/>
<line x1="1445.2" y1="1591.6" x2="1542.8" y2="1591.6" stroke="#1c1c1c" stroke-width="0.9"/>
<line x1="1445.2" y1="1565.7" x2="1542.8" y2="1565.7" stroke="#1c1c1c" stroke-width="0.9"/>
<line x1="1445.2" y1="1591.6" x2="1445.2" y2="1581.5" stroke="#1c1c1c" stroke-width="0.8"/>
<line x1="1542.8" y1="1591.6" x2="1542.8" y2="1581.5" stroke="#1c1c1c" stroke-width="0.8"/>
<line x1="1482.5" y1="1591.6" x2="1482.5" y2="1565.7" stroke="#1c1c1c" stroke-width="1.1"/>
<path d="M1446.5 1581.5 L1471.0 1558.0 A33.9 33.9 0 0 1 1481.5 1581.5" fill="none" stroke="#1c1c1c" stroke-width="1"/>
<rect x="1557.8" y="1402.5" width="22.9" height="41.5" fill="#ffffff" shape-rendering="crispEdges"/>
<rect x="1580.7" y="1405.5" width="6.5" height="35.5" fill="#ffffff" shape-rendering="crispEdges"/>
<line x1="1580.7" y1="1402.5" x2="1580.7" y2="1444" stroke="#1c1c1c" stroke-width="0.9"/>
<line x1="1577.2" y1="1402.5" x2="1577.2" y2="1444" stroke="#1c1c1c" stroke-width="0.9"/>
<line x1="1587.2" y1="1405.5" x2="1587.2" y2="1441" stroke="#1c1c1c" stroke-width="0.9"/>
<line x1="1557.8" y1="1402.5" x2="1557.8" y2="1444" stroke="#1c1c1c" stroke-width="0.9"/>
<line x1="1587.2" y1="1405.5" x2="1577.2" y2="1405.5" stroke="#1c1c1c" stroke-width="0.8"/>
<line x1="1587.2" y1="1441" x2="1577.2" y2="1441" stroke="#1c1c1c" stroke-width="0.8"/>
<rect x="1318.2" y="896" width="113.8" height="29" fill="#ffffff" shape-rendering="crispEdges"/>
<rect x="1318.2" y="896" width="113.8" height="29" fill="none" stroke="#1c1c1c" stroke-width="0.9"/>
<line x1="1318.2" y1="902" x2="1432" y2="902" stroke="#1c1c1c" stroke-width="0.8"/>
<line x1="1318.2" y1="908.5" x2="1432" y2="908.5" stroke="#1c1c1c" stroke-width="0.8"/>
<line x1="1355" y1="902" x2="1355" y2="908.5" stroke="#1c1c1c" stroke-width="0.7"/>
<line x1="1358" y1="902" x2="1358" y2="908.5" stroke="#1c1c1c" stroke-width="0.7"/>
<line x1="1392" y1="902" x2="1392" y2="908.5" stroke="#1c1c1c" stroke-width="0.7"/>
<line x1="1395" y1="902" x2="1395" y2="908.5" stroke="#1c1c1c" stroke-width="0.7"/>
<line x1="1284.4" y1="826" x2="1509.3" y2="826" stroke="#555" stroke-width="0.9"/>
<line x1="1284.4" y1="828.8" x2="1509.3" y2="828.8" stroke="#555" stroke-width="0.9"/>
<rect x="1779.7" y="600.4" width="95.6" height="18.4" fill="#ffffff" shape-rendering="crispEdges"/>
<rect x="1779.7" y="593.3" width="95.6" height="7.1" fill="#ffffff" shape-rendering="crispEdges"/>
<line x1="1779.7" y1="600.4" x2="1875.3" y2="600.4" stroke="#1c1c1c" stroke-width="0.9"/>
<line x1="1779.7" y1="603.6" x2="1875.3" y2="603.6" stroke="#1c1c1c" stroke-width="0.9"/>
<line x1="1779.7" y1="593.3" x2="1875.3" y2="593.3" stroke="#1c1c1c" stroke-width="0.9"/>
<line x1="1779.7" y1="618.8" x2="1875.3" y2="618.8" stroke="#1c1c1c" stroke-width="0.9"/>
<line x1="1779.7" y1="593.3" x2="1779.7" y2="603.6" stroke="#1c1c1c" stroke-width="0.8"/>
<line x1="1875.3" y1="593.3" x2="1875.3" y2="603.6" stroke="#1c1c1c" stroke-width="0.8"/>
<line x1="1816" y1="593.3" x2="1816" y2="618.8" stroke="#1c1c1c" stroke-width="1.1"/>
<path d="M1780.2 603.6 L1804.5 627.1 A33.8 33.8 0 0 0 1815.1 603.6" fill="none" stroke="#1c1c1c" stroke-width="1"/>
<rect x="1939.8" y="600.4" width="96.4" height="18.4" fill="#ffffff" shape-rendering="crispEdges"/>
<rect x="1939.8" y="593.3" width="96.4" height="7.1" fill="#ffffff" shape-rendering="crispEdges"/>
<line x1="1939.8" y1="600.4" x2="2036.2" y2="600.4" stroke="#1c1c1c" stroke-width="0.9"/>
<line x1="1939.8" y1="603.6" x2="2036.2" y2="603.6" stroke="#1c1c1c" stroke-width="0.9"/>
<line x1="1939.8" y1="593.3" x2="2036.2" y2="593.3" stroke="#1c1c1c" stroke-width="0.9"/>
<line x1="1939.8" y1="618.8" x2="2036.2" y2="618.8" stroke="#1c1c1c" stroke-width="0.9"/>
<line x1="1939.8" y1="593.3" x2="1939.8" y2="603.6" stroke="#1c1c1c" stroke-width="0.8"/>
<line x1="2036.2" y1="593.3" x2="2036.2" y2="603.6" stroke="#1c1c1c" stroke-width="0.8"/>
<line x1="1999" y1="593.3" x2="1999" y2="618.8" stroke="#1c1c1c" stroke-width="1.1"/>
<path d="M2035.7 603.6 L2011.2 627.1 A33.9 33.9 0 0 1 2000.0 603.6" fill="none" stroke="#1c1c1c" stroke-width="1"/>
<rect x="1611.2" y="593.1" width="97.1" height="7.8" fill="#ffffff" shape-rendering="crispEdges"/>
<line x1="1611.2" y1="593.1" x2="1708.3" y2="593.1" stroke="#1c1c1c" stroke-width="0.8"/>
<line x1="1611.2" y1="600.9" x2="1708.3" y2="600.9" stroke="#1c1c1c" stroke-width="0.8"/>
<line x1="1611.2" y1="596" x2="1708.3" y2="596" stroke="#1c1c1c" stroke-width="0.7"/>
<line x1="1611.2" y1="598" x2="1708.3" y2="598" stroke="#1c1c1c" stroke-width="0.7"/>
<line x1="1658.2" y1="593.1" x2="1658.2" y2="600.9" stroke="#1c1c1c" stroke-width="0.7"/>
<line x1="1661.2" y1="593.1" x2="1661.2" y2="600.9" stroke="#1c1c1c" stroke-width="0.7"/>
<rect x="2102.2" y="593.1" width="96.3" height="7.6" fill="#ffffff" shape-rendering="crispEdges"/>
<line x1="2102.2" y1="593.1" x2="2198.5" y2="593.1" stroke="#1c1c1c" stroke-width="0.8"/>
<line x1="2102.2" y1="600.7" x2="2198.5" y2="600.7" stroke="#1c1c1c" stroke-width="0.8"/>
<line x1="2102.2" y1="595.9" x2="2198.5" y2="595.9" stroke="#1c1c1c" stroke-width="0.7"/>
<line x1="2102.2" y1="597.9" x2="2198.5" y2="597.9" stroke="#1c1c1c" stroke-width="0.7"/>
<line x1="2148.8" y1="593.1" x2="2148.8" y2="600.7" stroke="#1c1c1c" stroke-width="0.7"/>
<line x1="2151.8" y1="593.1" x2="2151.8" y2="600.7" stroke="#1c1c1c" stroke-width="0.7"/>
<rect x="1614.8" y="669.3" width="96.7" height="18.7" fill="#ffffff" shape-rendering="crispEdges"/>
<rect x="1614.8" y="662.2" width="96.7" height="7.1" fill="#ffffff" shape-rendering="crispEdges"/>
<line x1="1614.8" y1="669.3" x2="1711.5" y2="669.3" stroke="#1c1c1c" stroke-width="0.9"/>
<line x1="1614.8" y1="672.5" x2="1711.5" y2="672.5" stroke="#1c1c1c" stroke-width="0.9"/>
<line x1="1614.8" y1="662.2" x2="1711.5" y2="662.2" stroke="#1c1c1c" stroke-width="0.9"/>
<line x1="1614.8" y1="688" x2="1711.5" y2="688" stroke="#1c1c1c" stroke-width="0.9"/>
<line x1="1614.8" y1="662.2" x2="1614.8" y2="672.5" stroke="#1c1c1c" stroke-width="0.8"/>
<line x1="1711.5" y1="662.2" x2="1711.5" y2="672.5" stroke="#1c1c1c" stroke-width="0.8"/>
<line x1="1674.8" y1="662.2" x2="1674.8" y2="688" stroke="#1c1c1c" stroke-width="1.1"/>
<path d="M1710.9 671.9 L1686.4 695.7 A34.2 34.2 0 0 1 1675.5 671.9" fill="none" stroke="#1c1c1c" stroke-width="1"/>
<rect x="2082.4" y="684.1" width="97.1" height="18.9" fill="#ffffff" shape-rendering="crispEdges"/>
<rect x="2082.4" y="677.2" width="97.1" height="6.9" fill="#ffffff" shape-rendering="crispEdges"/>
<line x1="2082.4" y1="684.1" x2="2179.5" y2="684.1" stroke="#1c1c1c" stroke-width="0.9"/>
<line x1="2082.4" y1="687.8" x2="2179.5" y2="687.8" stroke="#1c1c1c" stroke-width="0.9"/>
<line x1="2082.4" y1="677.2" x2="2179.5" y2="677.2" stroke="#1c1c1c" stroke-width="0.9"/>
<line x1="2082.4" y1="703" x2="2179.5" y2="703" stroke="#1c1c1c" stroke-width="0.9"/>
<line x1="2082.4" y1="677.2" x2="2082.4" y2="687.8" stroke="#1c1c1c" stroke-width="0.8"/>
<line x1="2179.5" y1="677.2" x2="2179.5" y2="687.8" stroke="#1c1c1c" stroke-width="0.8"/>
<line x1="2119.3" y1="677.2" x2="2119.3" y2="703" stroke="#1c1c1c" stroke-width="1.1"/>
<path d="M2083.5 687.8 L2107.9 711.6 A34.1 34.1 0 0 0 2118.3 687.8" fill="none" stroke="#1c1c1c" stroke-width="1"/>
<rect x="2204.5" y="773" width="23.5" height="67.3" fill="#ffffff" shape-rendering="crispEdges"/>
<rect x="2228" y="773" width="6.5" height="67.3" fill="#ffffff" shape-rendering="crispEdges"/>
<line x1="2228" y1="773" x2="2228" y2="840.3" stroke="#1c1c1c" stroke-width="0.9"/>
<line x1="2224.5" y1="773" x2="2224.5" y2="840.3" stroke="#1c1c1c" stroke-width="0.9"/>
<line x1="2234.5" y1="773" x2="2234.5" y2="840.3" stroke="#1c1c1c" stroke-width="0.9"/>
<line x1="2204.5" y1="773" x2="2204.5" y2="840.3" stroke="#1c1c1c" stroke-width="0.9"/>
<line x1="2234.5" y1="773" x2="2224.5" y2="773" stroke="#1c1c1c" stroke-width="0.8"/>
<line x1="2234.5" y1="840.3" x2="2224.5" y2="840.3" stroke="#1c1c1c" stroke-width="0.8"/>
<line x1="2228" y1="805.2" x2="2224.5" y2="805.2" stroke="#1c1c1c" stroke-width="0.7"/>
<line x1="2228" y1="807.8" x2="2224.5" y2="807.8" stroke="#1c1c1c" stroke-width="0.7"/>
<rect x="2204.5" y="887.8" width="23.5" height="66.7" fill="#ffffff" shape-rendering="crispEdges"/>
<rect x="2228" y="887.8" width="6.5" height="66.7" fill="#ffffff" shape-rendering="crispEdges"/>
<line x1="2228" y1="887.8" x2="2228" y2="954.5" stroke="#1c1c1c" stroke-width="0.9"/>
<line x1="2224.5" y1="887.8" x2="2224.5" y2="954.5" stroke="#1c1c1c" stroke-width="0.9"/>
<line x1="2234.5" y1="887.8" x2="2234.5" y2="954.5" stroke="#1c1c1c" stroke-width="0.9"/>
<line x1="2204.5" y1="887.8" x2="2204.5" y2="954.5" stroke="#1c1c1c" stroke-width="0.9"/>
<line x1="2234.5" y1="887.8" x2="2224.5" y2="887.8" stroke="#1c1c1c" stroke-width="0.8"/>
<line x1="2234.5" y1="954.5" x2="2224.5" y2="954.5" stroke="#1c1c1c" stroke-width="0.8"/>
<line x1="2228" y1="919.7" x2="2224.5" y2="919.7" stroke="#1c1c1c" stroke-width="0.7"/>
<line x1="2228" y1="922.3" x2="2224.5" y2="922.3" stroke="#1c1c1c" stroke-width="0.7"/>
<rect x="2204.5" y="1037.7" width="23.5" height="40.3" fill="#ffffff" shape-rendering="crispEdges"/>
<rect x="2228" y="1037.7" width="6.5" height="40.3" fill="#ffffff" shape-rendering="crispEdges"/>
<line x1="2228" y1="1037.7" x2="2228" y2="1078" stroke="#1c1c1c" stroke-width="0.9"/>
<line x1="2224.5" y1="1037.7" x2="2224.5" y2="1078" stroke="#1c1c1c" stroke-width="0.9"/>
<line x1="2234.5" y1="1037.7" x2="2234.5" y2="1078" stroke="#1c1c1c" stroke-width="0.9"/>
<line x1="2204.5" y1="1037.7" x2="2204.5" y2="1078" stroke="#1c1c1c" stroke-width="0.9"/>
<line x1="2234.5" y1="1037.7" x2="2224.5" y2="1037.7" stroke="#1c1c1c" stroke-width="0.8"/>
<line x1="2234.5" y1="1078" x2="2224.5" y2="1078" stroke="#1c1c1c" stroke-width="0.8"/>
<rect x="2204.5" y="1156.2" width="23.5" height="67" fill="#ffffff" shape-rendering="crispEdges"/>
<rect x="2228" y="1156.2" width="6.5" height="67" fill="#ffffff" shape-rendering="crispEdges"/>
<line x1="2228" y1="1156.2" x2="2228" y2="1223.2" stroke="#1c1c1c" stroke-width="0.9"/>
<line x1="2224.5" y1="1156.2" x2="2224.5" y2="1223.2" stroke="#1c1c1c" stroke-width="0.9"/>
<line x1="2234.5" y1="1156.2" x2="2234.5" y2="1223.2" stroke="#1c1c1c" stroke-width="0.9"/>
<line x1="2204.5" y1="1156.2" x2="2204.5" y2="1223.2" stroke="#1c1c1c" stroke-width="0.9"/>
<line x1="2234.5" y1="1156.2" x2="2224.5" y2="1156.2" stroke="#1c1c1c" stroke-width="0.8"/>
<line x1="2234.5" y1="1223.2" x2="2224.5" y2="1223.2" stroke="#1c1c1c" stroke-width="0.8"/>
<line x1="2228" y1="1188.2" x2="2224.5" y2="1188.2" stroke="#1c1c1c" stroke-width="0.7"/>
<line x1="2228" y1="1190.8" x2="2224.5" y2="1190.8" stroke="#1c1c1c" stroke-width="0.7"/>
<rect x="2216.4" y="626.7" width="13.6" height="41.9" fill="#ffffff" shape-rendering="crispEdges"/>
<rect x="2230" y="629.7" width="4.5" height="35.9" fill="#ffffff" shape-rendering="crispEdges"/>
<line x1="2230" y1="626.7" x2="2230" y2="668.6" stroke="#1c1c1c" stroke-width="0.9"/>
<line x1="2227" y1="626.7" x2="2227" y2="668.6" stroke="#1c1c1c" stroke-width="0.9"/>
<line x1="2234.5" y1="629.7" x2="2234.5" y2="665.6" stroke="#1c1c1c" stroke-width="0.9"/>
<line x1="2216.4" y1="626.7" x2="2216.4" y2="668.6" stroke="#1c1c1c" stroke-width="0.9"/>
<line x1="2234.5" y1="629.7" x2="2227" y2="629.7" stroke="#1c1c1c" stroke-width="0.8"/>
<line x1="2234.5" y1="665.6" x2="2227" y2="665.6" stroke="#1c1c1c" stroke-width="0.8"/>
<rect x="1771.1" y="1338.5" width="96.5" height="18.4" fill="#ffffff" shape-rendering="crispEdges"/>
<rect x="1771.1" y="1356.9" width="96.5" height="6.8" fill="#ffffff" shape-rendering="crispEdges"/>
<line x1="1771.1" y1="1356.9" x2="1867.6" y2="1356.9" stroke="#1c1c1c" stroke-width="0.9"/>
<line x1="1771.1" y1="1353.1" x2="1867.6" y2="1353.1" stroke="#1c1c1c" stroke-width="0.9"/>
<line x1="1771.1" y1="1363.7" x2="1867.6" y2="1363.7" stroke="#1c1c1c" stroke-width="0.9"/>
<line x1="1771.1" y1="1338.5" x2="1867.6" y2="1338.5" stroke="#1c1c1c" stroke-width="0.9"/>
<line x1="1771.1" y1="1363.7" x2="1771.1" y2="1353.1" stroke="#1c1c1c" stroke-width="0.8"/>
<line x1="1867.6" y1="1363.7" x2="1867.6" y2="1353.1" stroke="#1c1c1c" stroke-width="0.8"/>
<line x1="1831" y1="1363.7" x2="1831" y2="1338.5" stroke="#1c1c1c" stroke-width="1.1"/>
<path d="M1866.2 1353.3 L1842.3 1329.9 A33.4 33.4 0 0 0 1832.0 1353.3" fill="none" stroke="#1c1c1c" stroke-width="1"/>
<rect x="1926.6" y="1338.5" width="95.9" height="18.4" fill="#ffffff" shape-rendering="crispEdges"/>
<rect x="1926.6" y="1356.9" width="95.9" height="6.8" fill="#ffffff" shape-rendering="crispEdges"/>
<line x1="1926.6" y1="1356.9" x2="2022.5" y2="1356.9" stroke="#1c1c1c" stroke-width="0.9"/>
<line x1="1926.6" y1="1353.1" x2="2022.5" y2="1353.1" stroke="#1c1c1c" stroke-width="0.9"/>
<line x1="1926.6" y1="1363.7" x2="2022.5" y2="1363.7" stroke="#1c1c1c" stroke-width="0.9"/>
<line x1="1926.6" y1="1338.5" x2="2022.5" y2="1338.5" stroke="#1c1c1c" stroke-width="0.9"/>
<line x1="1926.6" y1="1363.7" x2="1926.6" y2="1353.1" stroke="#1c1c1c" stroke-width="0.8"/>
<line x1="2022.5" y1="1363.7" x2="2022.5" y2="1353.1" stroke="#1c1c1c" stroke-width="0.8"/>
<line x1="1986" y1="1363.7" x2="1986" y2="1338.5" stroke="#1c1c1c" stroke-width="1.1"/>
<path d="M2021.0 1353.3 L1997.2 1329.9 A33.4 33.4 0 0 0 1987.0 1353.3" fill="none" stroke="#1c1c1c" stroke-width="1"/>
<rect x="2082.4" y="1338.5" width="97.1" height="18.4" fill="#ffffff" shape-rendering="crispEdges"/>
<rect x="2082.4" y="1356.9" width="97.1" height="6.8" fill="#ffffff" shape-rendering="crispEdges"/>
<line x1="2082.4" y1="1356.9" x2="2179.5" y2="1356.9" stroke="#1c1c1c" stroke-width="0.9"/>
<line x1="2082.4" y1="1353.1" x2="2179.5" y2="1353.1" stroke="#1c1c1c" stroke-width="0.9"/>
<line x1="2082.4" y1="1363.7" x2="2179.5" y2="1363.7" stroke="#1c1c1c" stroke-width="0.9"/>
<line x1="2082.4" y1="1338.5" x2="2179.5" y2="1338.5" stroke="#1c1c1c" stroke-width="0.9"/>
<line x1="2082.4" y1="1363.7" x2="2082.4" y2="1353.1" stroke="#1c1c1c" stroke-width="0.8"/>
<line x1="2179.5" y1="1363.7" x2="2179.5" y2="1353.1" stroke="#1c1c1c" stroke-width="0.8"/>
<line x1="2119.3" y1="1363.7" x2="2119.3" y2="1338.5" stroke="#1c1c1c" stroke-width="1.1"/>
<path d="M2084.0 1353.3 L2107.9 1329.9 A33.4 33.4 0 0 1 2118.3 1353.3" fill="none" stroke="#1c1c1c" stroke-width="1"/>
<rect x="1628.9" y="1269.6" width="96.5" height="18.6" fill="#ffffff" shape-rendering="crispEdges"/>
<rect x="1628.9" y="1288.2" width="96.5" height="6.5" fill="#ffffff" shape-rendering="crispEdges"/>
<line x1="1628.9" y1="1288.2" x2="1725.4" y2="1288.2" stroke="#1c1c1c" stroke-width="0.9"/>
<line x1="1628.9" y1="1284.4" x2="1725.4" y2="1284.4" stroke="#1c1c1c" stroke-width="0.9"/>
<line x1="1628.9" y1="1294.7" x2="1725.4" y2="1294.7" stroke="#1c1c1c" stroke-width="0.9"/>
<line x1="1628.9" y1="1269.6" x2="1725.4" y2="1269.6" stroke="#1c1c1c" stroke-width="0.9"/>
<line x1="1628.9" y1="1294.7" x2="1628.9" y2="1284.4" stroke="#1c1c1c" stroke-width="0.8"/>
<line x1="1725.4" y1="1294.7" x2="1725.4" y2="1284.4" stroke="#1c1c1c" stroke-width="0.8"/>
<line x1="1688.5" y1="1294.7" x2="1688.5" y2="1269.6" stroke="#1c1c1c" stroke-width="1.1"/>
<path d="M1723.9 1284.4 L1700.1 1261.0 A33.4 33.4 0 0 0 1689.0 1284.4" fill="none" stroke="#1c1c1c" stroke-width="1"/>
<rect x="1628.9" y="1356.4" width="96.5" height="7.3" fill="#ffffff" shape-rendering="crispEdges"/>
<line x1="1628.9" y1="1356.4" x2="1725.4" y2="1356.4" stroke="#1c1c1c" stroke-width="0.8"/>
<line x1="1628.9" y1="1363.7" x2="1725.4" y2="1363.7" stroke="#1c1c1c" stroke-width="0.8"/>
<line x1="1628.9" y1="1359.1" x2="1725.4" y2="1359.1" stroke="#1c1c1c" stroke-width="0.7"/>
<line x1="1628.9" y1="1361.1" x2="1725.4" y2="1361.1" stroke="#1c1c1c" stroke-width="0.7"/>
<line x1="1675.7" y1="1356.4" x2="1675.7" y2="1363.7" stroke="#1c1c1c" stroke-width="0.7"/>
<line x1="1678.7" y1="1356.4" x2="1678.7" y2="1363.7" stroke="#1c1c1c" stroke-width="0.7"/>
<rect x="1586.9" y="1363.7" width="25.1" height="6.2" fill="#4b4b4d" shape-rendering="crispEdges"/>
<rect x="1586.9" y="1369.9" width="19" height="5.8" fill="#4b4b4d" shape-rendering="crispEdges"/>
<rect x="1741.2" y="1363.7" width="30.2" height="6.2" fill="#4b4b4d" shape-rendering="crispEdges"/>
<rect x="1747.4" y="1369.9" width="18.3" height="5.8" fill="#4b4b4d" shape-rendering="crispEdges"/>
<rect x="1897" y="1363.7" width="29" height="6.2" fill="#4b4b4d" shape-rendering="crispEdges"/>
<rect x="1902.5" y="1369.9" width="18" height="5.8" fill="#4b4b4d" shape-rendering="crispEdges"/>
<rect x="2055" y="1363.7" width="26.7" height="6.2" fill="#4b4b4d" shape-rendering="crispEdges"/>
<rect x="2060.5" y="1369.9" width="15.7" height="5.8" fill="#4b4b4d" shape-rendering="crispEdges"/>
<rect x="2211.8" y="1363.7" width="28.4" height="6.2" fill="#4b4b4d" shape-rendering="crispEdges"/>
<rect x="2217.3" y="1369.9" width="22.9" height="5.4" fill="#4b4b4d" shape-rendering="crispEdges"/>
<rect x="2234.7" y="1345.9" width="5.5" height="29.4" fill="#4b4b4d" shape-rendering="crispEdges"/>
<rect x="1720.5" y="581.9" width="18.3" height="5.7" fill="#4b4b4d" shape-rendering="crispEdges"/>
<rect x="1714.7" y="587.6" width="30.3" height="5.7" fill="#4b4b4d" shape-rendering="crispEdges"/>
<rect x="1881.2" y="581.9" width="18.6" height="5.7" fill="#4b4b4d" shape-rendering="crispEdges"/>
<rect x="1875.9" y="587.6" width="29.7" height="5.7" fill="#4b4b4d" shape-rendering="crispEdges"/>
<rect x="2042" y="581.5" width="18.7" height="5.5" fill="#4b4b4d" shape-rendering="crispEdges"/>
<rect x="2036.2" y="587" width="30.6" height="6.3" fill="#4b4b4d" shape-rendering="crispEdges"/>
<rect x="2210.8" y="581.5" width="29.8" height="5.5" fill="#4b4b4d" shape-rendering="crispEdges"/>
<rect x="2205.2" y="587" width="35.4" height="6.3" fill="#4b4b4d" shape-rendering="crispEdges"/>
<rect x="2234.3" y="581.5" width="6.3" height="29" fill="#4b4b4d" shape-rendering="crispEdges"/>
<path d="M1741.4 592.6 V553 H1878.7 V592.6" fill="none" stroke="#1c1c1c" stroke-width="0.9"/>
<path d="M1744.2 592.6 V555.8 H1875.9 V592.6" fill="none" stroke="#1c1c1c" stroke-width="0.9"/>
<path d="M1902.2 592.6 V553 H2039.2 V592.6" fill="none" stroke="#1c1c1c" stroke-width="0.9"/>
<path d="M1905.0 592.6 V555.8 H2036.4 V592.6" fill="none" stroke="#1c1c1c" stroke-width="0.9"/>
<path d="M1768.9 1363.8 V1403.7 H1899.0 V1363.8" fill="none" stroke="#1c1c1c" stroke-width="0.9"/>
<path d="M1771.7 1363.8 V1400.9 H1896.2 V1363.8" fill="none" stroke="#1c1c1c" stroke-width="0.9"/>
<path d="M1923.8 1363.8 V1403.7 H2055.5 V1363.8" fill="none" stroke="#1c1c1c" stroke-width="0.9"/>
<path d="M1926.6 1363.8 V1400.9 H2052.7 V1363.8" fill="none" stroke="#1c1c1c" stroke-width="0.9"/>
<path d="M2080.3 1363.8 V1403.7 H2213.5 V1363.8" fill="none" stroke="#1c1c1c" stroke-width="0.9"/>
<path d="M2083.1 1363.8 V1400.9 H2210.7 V1363.8" fill="none" stroke="#1c1c1c" stroke-width="0.9"/>
<rect x="1746.5" y="567.5" width="32" height="20.5" fill="none" stroke="#1c1c1c" stroke-width="1"/>
<line x1="1746.5" y1="567.5" x2="1778.5" y2="588" stroke="#1c1c1c" stroke-width="0.9"/>
<line x1="1746.5" y1="588" x2="1778.5" y2="567.5" stroke="#1c1c1c" stroke-width="0.9"/>
<rect x="1907.5" y="567.5" width="32" height="20.5" fill="none" stroke="#1c1c1c" stroke-width="1"/>
<line x1="1907.5" y1="567.5" x2="1939.5" y2="588" stroke="#1c1c1c" stroke-width="0.9"/>
<line x1="1907.5" y1="588" x2="1939.5" y2="567.5" stroke="#1c1c1c" stroke-width="0.9"/>
<rect x="1861.5" y="1368.5" width="32.5" height="20.5" fill="none" stroke="#1c1c1c" stroke-width="1"/>
<line x1="1861.5" y1="1368.5" x2="1894" y2="1389" stroke="#1c1c1c" stroke-width="0.9"/>
<line x1="1861.5" y1="1389" x2="1894" y2="1368.5" stroke="#1c1c1c" stroke-width="0.9"/>
<rect x="2017.5" y="1368.5" width="33" height="20.5" fill="none" stroke="#1c1c1c" stroke-width="1"/>
<line x1="2017.5" y1="1368.5" x2="2050.5" y2="1389" stroke="#1c1c1c" stroke-width="0.9"/>
<line x1="2017.5" y1="1389" x2="2050.5" y2="1368.5" stroke="#1c1c1c" stroke-width="0.9"/>
<rect x="674.2" y="841.2" width="32.8" height="21.3" fill="none" stroke="#1c1c1c" stroke-width="1"/>
<line x1="674.2" y1="841.2" x2="707" y2="862.5" stroke="#1c1c1c" stroke-width="0.9"/>
<line x1="674.2" y1="862.5" x2="707" y2="841.2" stroke="#1c1c1c" stroke-width="0.9"/>
<rect x="674.3" y="1625.2" width="32.6" height="21.2" fill="none" stroke="#1c1c1c" stroke-width="1"/>
<line x1="674.3" y1="1625.2" x2="706.9" y2="1646.4" stroke="#1c1c1c" stroke-width="0.9"/>
<line x1="674.3" y1="1646.4" x2="706.9" y2="1625.2" stroke="#1c1c1c" stroke-width="0.9"/>
<rect x="651.5" y="1352" width="22" height="31" fill="none" stroke="#1c1c1c" stroke-width="1"/>
<line x1="651.5" y1="1352" x2="673.5" y2="1383" stroke="#1c1c1c" stroke-width="0.9"/>
<line x1="651.5" y1="1383" x2="673.5" y2="1352" stroke="#1c1c1c" stroke-width="0.9"/>
<rect x="1530.4" y="853.5" width="20.9" height="32.9" fill="none" stroke="#1c1c1c" stroke-width="1"/>
<line x1="1530.4" y1="853.5" x2="1551.3" y2="886.4" stroke="#1c1c1c" stroke-width="0.9"/>
<line x1="1530.4" y1="886.4" x2="1551.3" y2="853.5" stroke="#1c1c1c" stroke-width="0.9"/>
<rect x="1367" y="1056.6" width="96.6" height="51" fill="none" stroke="#1c1c1c" stroke-width="1"/>
<line x1="1367" y1="1056.6" x2="1463.6" y2="1107.6" stroke="#1c1c1c" stroke-width="0.9"/>
<line x1="1367" y1="1107.6" x2="1463.6" y2="1056.6" stroke="#1c1c1c" stroke-width="0.9"/>
<rect x="1559.7" y="1602.3" width="21.1" height="33.1" fill="none" stroke="#1c1c1c" stroke-width="1"/>
<line x1="1559.7" y1="1602.3" x2="1580.8" y2="1635.4" stroke="#1c1c1c" stroke-width="0.9"/>
<line x1="1559.7" y1="1635.4" x2="1580.8" y2="1602.3" stroke="#1c1c1c" stroke-width="0.9"/>
<line x1="1581.3" y1="1601.5" x2="1581.3" y2="1634.2" stroke="#1c1c1c" stroke-width="0.9"/>
<line x1="1583.6" y1="1601.5" x2="1583.6" y2="1634.2" stroke="#1c1c1c" stroke-width="0.7"/>
<line x1="1586.8" y1="1601.5" x2="1586.8" y2="1634.2" stroke="#1c1c1c" stroke-width="0.9"/>
<rect x="1439.9" y="1649.5" width="112.8" height="6.6" fill="#ffffff" shape-rendering="crispEdges"/>
<line x1="1439.9" y1="1649.5" x2="1552.7" y2="1649.5" stroke="#1c1c1c" stroke-width="0.8"/>
<line x1="1439.9" y1="1656.1" x2="1552.7" y2="1656.1" stroke="#1c1c1c" stroke-width="0.8"/>
<line x1="1439.9" y1="1651.8" x2="1552.7" y2="1651.8" stroke="#1c1c1c" stroke-width="0.7"/>
<line x1="1439.9" y1="1653.8" x2="1552.7" y2="1653.8" stroke="#1c1c1c" stroke-width="0.7"/>
<line x1="1476.2" y1="1649.5" x2="1476.2" y2="1656.1" stroke="#1c1c1c" stroke-width="0.7"/>
<line x1="1478.8" y1="1649.5" x2="1478.8" y2="1656.1" stroke="#1c1c1c" stroke-width="0.7"/>
<line x1="1513.7" y1="1649.5" x2="1513.7" y2="1656.1" stroke="#1c1c1c" stroke-width="0.7"/>
<line x1="1516.3" y1="1649.5" x2="1516.3" y2="1656.1" stroke="#1c1c1c" stroke-width="0.7"/>
<rect x="1277.4" y="1655.7" width="119.9" height="51.3" fill="none" stroke="#1c1c1c" stroke-width="0.9"/>
<rect x="1279.9" y="1655.7" width="115" height="48.7" fill="none" stroke="#1c1c1c" stroke-width="0.9"/>
<rect x="1283.2" y="1661.4" width="32.5" height="21.1" fill="none" stroke="#1c1c1c" stroke-width="1"/>
<line x1="1283.2" y1="1661.4" x2="1315.7" y2="1682.5" stroke="#1c1c1c" stroke-width="0.9"/>
<line x1="1283.2" y1="1682.5" x2="1315.7" y2="1661.4" stroke="#1c1c1c" stroke-width="0.9"/>
<line x1="1290.4" y1="1036.5" x2="1339.2" y2="1036.5" stroke="#1c1c1c" stroke-width="1"/>
<line x1="1290.4" y1="1050.2" x2="1339.2" y2="1050.2" stroke="#1c1c1c" stroke-width="1"/>
<line x1="1290.4" y1="1064.2" x2="1339.2" y2="1064.2" stroke="#1c1c1c" stroke-width="1"/>
<line x1="1290.4" y1="1078.1" x2="1339.2" y2="1078.1" stroke="#1c1c1c" stroke-width="1"/>
<line x1="1290.4" y1="1091.9" x2="1339.2" y2="1091.9" stroke="#1c1c1c" stroke-width="1"/>
<line x1="1290.4" y1="1105.6" x2="1339.2" y2="1105.6" stroke="#1c1c1c" stroke-width="1"/>
<line x1="1290.4" y1="1119.5" x2="1339.2" y2="1119.5" stroke="#1c1c1c" stroke-width="1"/>
<line x1="1290.4" y1="1133.4" x2="1339.2" y2="1133.4" stroke="#1c1c1c" stroke-width="1"/>
<line x1="1508.7" y1="1046.4" x2="1557.2" y2="1046.4" stroke="#1c1c1c" stroke-width="1"/>
<line x1="1508.7" y1="1060.4" x2="1557.2" y2="1060.4" stroke="#1c1c1c" stroke-width="1"/>
<line x1="1508.7" y1="1074.2" x2="1557.2" y2="1074.2" stroke="#1c1c1c" stroke-width="1"/>
<line x1="1508.7" y1="1087.7" x2="1557.2" y2="1087.7" stroke="#1c1c1c" stroke-width="1"/>
<line x1="1508.7" y1="1101.4" x2="1557.2" y2="1101.4" stroke="#1c1c1c" stroke-width="1"/>
<line x1="1508.7" y1="1115.5" x2="1557.2" y2="1115.5" stroke="#1c1c1c" stroke-width="1"/>
<line x1="1508.7" y1="1129.4" x2="1557.2" y2="1129.4" stroke="#1c1c1c" stroke-width="1"/>
<line x1="1508.7" y1="1143.1" x2="1557.2" y2="1143.1" stroke="#1c1c1c" stroke-width="1"/>
<line x1="1368.7" y1="1158.3" x2="1368.7" y2="1207.1" stroke="#1c1c1c" stroke-width="1"/>
<line x1="1382.6" y1="1158.3" x2="1382.6" y2="1207.1" stroke="#1c1c1c" stroke-width="1"/>
<line x1="1396.3" y1="1158.3" x2="1396.3" y2="1207.1" stroke="#1c1c1c" stroke-width="1"/>
<line x1="1410" y1="1158.3" x2="1410" y2="1207.1" stroke="#1c1c1c" stroke-width="1"/>
<line x1="1423.6" y1="1158.3" x2="1423.6" y2="1207.1" stroke="#1c1c1c" stroke-width="1"/>
<line x1="1437.3" y1="1158.3" x2="1437.3" y2="1207.1" stroke="#1c1c1c" stroke-width="1"/>
<line x1="1451.2" y1="1158.3" x2="1451.2" y2="1207.1" stroke="#1c1c1c" stroke-width="1"/>
<line x1="1465.2" y1="1158.3" x2="1465.2" y2="1207.1" stroke="#1c1c1c" stroke-width="1"/>
<line x1="1314.4" y1="1133.4" x2="1314.4" y2="1040" stroke="#1c1c1c" stroke-width="1"/>
<path d="M1314.4 1036.5 L1309.4 1047.2 H1319.4 Z" fill="#000"/>
<line x1="1532.7" y1="1046.4" x2="1532.7" y2="1140" stroke="#1c1c1c" stroke-width="1"/>
<path d="M1532.7 1143.1 L1527.7 1132.7 H1537.7 Z" fill="#000"/>
<line x1="1368.7" y1="1183.3" x2="1465.2" y2="1183.3" stroke="#1c1c1c" stroke-width="1"/>
<path d="M1368.7 1183.3 L1378.9 1178.3 V1188.3 Z" fill="#000"/>
<path d="M1437.6 1183.3 L1447.9 1178.3 V1188.3 Z" fill="#000"/>
<path d="M1416.9 1158.3 L1437.6 1207.1 H1444.6 L1423.2 1158.3Z" fill="#fff"/>
<path d="M1416.9 1158.3 L1437.6 1207.1 M1423.2 1158.3 L1444.6 1207.1" fill="none" stroke="#1c1c1c" stroke-width="1"/>
<rect x="1339.2" y="1032.3" width="169.5" height="126" fill="none" stroke="#1c1c1c" stroke-width="1"/>
<line x1="1343.4" y1="1032.3" x2="1343.4" y2="1154.7" stroke="#1c1c1c" stroke-width="0.9"/>
<line x1="1504.6" y1="1032.3" x2="1504.6" y2="1154.7" stroke="#1c1c1c" stroke-width="0.9"/>
<path d="M1263.8 970.5 L1299.6 1004.9 A49.6 49.6 0 0 1 1263.8 1018.7" fill="none" stroke="#1c1c1c" stroke-width="1"/>
<path d="M1481.9 903.5 L1446.9 869.0 A49.1 49.1 0 0 0 1432.0 903.5" fill="none" stroke="#1c1c1c" stroke-width="1"/>
<path d="M1565.0 946.7 L1530.4 980.0 A48.0 48.0 0 0 0 1565.0 994.6" fill="none" stroke="#1c1c1c" stroke-width="1"/>
<path d="M1847.2 923.3 L1813.4 956.3 A47.2 47.2 0 0 1 1798.7 923.3" fill="none" stroke="#1c1c1c" stroke-width="1"/>
<path d="M1851.6 1007.7 L1817.8 974.5 A47.4 47.4 0 0 0 1802.5 1007.7" fill="none" stroke="#1c1c1c" stroke-width="1"/>
<path d="M1244.0 1283.5 L1209.4 1250.6 A47.7 47.7 0 0 0 1194.7 1283.5" fill="none" stroke="#1c1c1c" stroke-width="1"/>
<path d="M1164.5 1135.0 L1197.5 1169.0 A47.4 47.4 0 0 1 1164.5 1183.5" fill="none" stroke="#1c1c1c" stroke-width="1"/>
<path d="M2042 581.5h19M2211 581.5h30M1552 582.5h18M1720 582.5h19M1881 582.5h19M1570 587.5h6M2036 587.5h6M2061 587.5h6M2205 587.5h6M1715 588.5h5M1739 588.5h6M1876 588.5h5M1900 588.5h6M1576 593.5h35M1708 593.5h7M1745 593.5h35M1906 593.5h34M2067 593.5h35M2198 593.5h7M1571 600.5h40M1708 600.5h23M2080 600.5h22M2198 600.5h18M2234 609.5h7M1757 618.5h23M1875 618.5h25M1919 618.5h21M2036 618.5h18M2216 626.5h14M2230 629.5h4M1571 662.5h44M1711 662.5h20M2230 666.5h4M2216 669.5h14M2080 677.5h2M2179 677.5h37M1583 687.5h32M1711 687.5h39M2061 702.5h21M2179 702.5h25M2204 772.5h30M1757 773.5h73M1871 773.5h29M1919 773.5h30M1989 773.5h65M1750 779.5h35M1793 779.5h37M1871 779.5h78M1989 779.5h65M2054 780.5h7M1785 784.5h8M1509 824.5h43M639 825.5h36M1248 826.5h36M1785 826.5h8M671 830.5h4M710 831.5h131M878 831.5h149M1104 831.5h81M1219 831.5h29M1278 831.5h6M1644 832.5h74M1753 832.5h32M1900 834.5h49M1985 834.5h54M1516 836.5h36M838 837.5h3M878 837.5h3M1024 837.5h3M1104 837.5h3M1182 837.5h3M1219 837.5h3M1552 837.5h5M1644 838.5h42M1694 838.5h24M1753 838.5h32M2204 840.5h30M1919 841.5h30M1985 841.5h16M2008 841.5h31M1509 847.5h7M652 849.5h19M639 860.5h6M740 861.5h98M881 861.5h55M944 861.5h304M652 872.5h15M699 872.5h11M1907 873.5h9M645 878.5h22M699 878.5h11M1509 885.5h7M2204 887.5h30M1278 896.5h40M1482 896.5h27M1583 897.5h103M1694 897.5h91M1793 897.5h6M1849 897.5h51M1907 899.5h9M1516 900.5h41M1694 900.5h24M1582 910.5h70M1694 914.5h24M1150 919.5h7M716 922.5h24M1657 922.5h18M1683 922.5h23M1714 922.5h19M1737 922.5h62M1849 922.5h51M1273 924.5h45M1482 924.5h76M710 925.5h6M1252 925.5h12M1657 931.5h18M1683 931.5h23M1714 931.5h19M1651 933.5h86M1558 944.5h24M871 947.5h8M1157 948.5h91M1252 949.5h12M2204 954.5h30M1164 961.5h84M1248 969.5h25M879 975.5h57M879 982.5h57M871 988.5h8M936 988.5h8M1558 996.5h24M1919 1000.5h82M2008 1000.5h196M2061 1003.5h23M1785 1007.5h7M1582 1008.5h203M1792 1008.5h10M1852 1008.5h48M1948 1009.5h25M1979 1009.5h11M1761 1016.5h24M2061 1016.5h23M710 1017.5h6M716 1020.5h24M1248 1020.5h25M1948 1022.5h25M1979 1022.5h11M646 1025.5h64M1792 1025.5h10M1852 1025.5h30M1890 1025.5h83M1980 1025.5h122M2110 1025.5h94M936 1029.5h8M1761 1029.5h24M871 1030.5h8M1582 1031.5h203M1273 1032.5h17M1343 1032.5h54M1451 1032.5h53M740 1036.5h131M944 1036.5h13M982 1036.5h168M2204 1037.5h30M646 1042.5h31M1252 1050.5h19M1362 1051.5h35M1451 1051.5h35M957 1052.5h25M707 1054.5h164M944 1054.5h123M1075 1054.5h75M2204 1078.5h30M684 1082.5h23M871 1082.5h8M936 1082.5h8M677 1085.5h7M1890 1108.5h34M1959 1108.5h14M1980 1108.5h33M2049 1108.5h53M2110 1108.5h33M1882 1115.5h42M1959 1115.5h54M2049 1115.5h6M2062 1115.5h81M1785 1117.5h7M2055 1119.5h7M936 1120.5h8M871 1124.5h8M1150 1133.5h14M1362 1136.5h124M944 1143.5h123M936 1149.5h139M1343 1154.5h161M2204 1155.5h30M1785 1159.5h7M2055 1161.5h7M1755 1166.5h30M1792 1166.5h44M1876 1166.5h66M1983 1166.5h72M1763 1173.5h73M1876 1173.5h30M1914 1173.5h28M1983 1173.5h72M677 1175.5h7M1252 1177.5h19M684 1178.5h23M1252 1182.5h19M1150 1184.5h14M924 1203.5h114M1075 1203.5h75M998 1208.5h11M1015 1208.5h11M1260 1208.5h11M1290 1208.5h268M646 1209.5h31M707 1209.5h164M1343 1216.5h11M1437 1216.5h25M998 1218.5h11M1015 1218.5h11M1252 1222.5h8M2204 1223.5h30M646 1227.5h31M707 1227.5h172M924 1227.5h77M1009 1227.5h13M1026 1227.5h12M1075 1227.5h70M1252 1227.5h8M1343 1230.5h11M1437 1230.5h25M1278 1232.5h58M1343 1232.5h87M1438 1232.5h120M1252 1253.5h8M1252 1258.5h8M684 1259.5h23M677 1262.5h7M1582 1269.5h173M1252 1278.5h8M1009 1283.5h13M1026 1283.5h119M1164 1283.5h31M1244 1283.5h4M1582 1294.5h47M1725 1294.5h14M1110 1296.5h35M1016 1297.5h94M1153 1297.5h42M1244 1297.5h34M1343 1335.5h40M1420 1336.5h10M1438 1336.5h29M1763 1338.5h8M1868 1338.5h38M1914 1338.5h13M2022 1338.5h33M2062 1338.5h20M2179 1338.5h25M1336 1341.5h38M1420 1342.5h47M2235 1346.5h5M677 1353.5h7M684 1356.5h23M1582 1356.5h47M1725 1356.5h14M1248 1359.5h19M1612 1363.5h17M1725 1363.5h16M1868 1363.5h29M2022 1363.5h33M2179 1363.5h33M1606 1369.5h6M1741 1369.5h6M1766 1369.5h5M1897 1369.5h5M1920 1369.5h6M2055 1369.5h5M2076 1369.5h6M2212 1369.5h5M2217 1374.5h23M707 1375.5h294M1016 1375.5h11M1063 1375.5h82M1587 1375.5h19M1747 1375.5h19M1902 1375.5h18M2060 1375.5h16M1087 1377.5h25M841 1384.5h26M646 1387.5h31M1087 1391.5h25M1267 1394.5h107M841 1397.5h26M1248 1399.5h126M740 1400.5h229M977 1400.5h50M1063 1400.5h90M1558 1401.5h23M1581 1404.5h6M652 1405.5h58M969 1405.5h8M1374 1405.5h8M1581 1441.5h6M1558 1444.5h23M969 1446.5h8M1374 1446.5h8M977 1451.5h19M1037 1451.5h158M1236 1451.5h61M1337 1451.5h37M1382 1451.5h40M977 1458.5h19M1037 1458.5h69M1114 1458.5h81M1236 1458.5h12M1267 1458.5h30M1337 1458.5h77M646 1465.5h6M716 1474.5h24M710 1477.5h6M1422 1566.5h23M1543 1566.5h15M710 1584.5h6M716 1587.5h24M1440 1591.5h5M1543 1591.5h10M1559 1591.5h9M1568 1597.5h7M1553 1600.5h6M1575 1600.5h12M645 1608.5h22M699 1608.5h11M652 1614.5h15M699 1614.5h11M740 1625.5h229M977 1625.5h129M1114 1625.5h134M1267 1625.5h147M640 1626.5h5M1553 1634.5h6M1568 1634.5h25M652 1637.5h20M796 1649.5h3M876 1649.5h3M912 1649.5h3M951 1649.5h3M999 1649.5h3M1079 1649.5h3M1151 1649.5h3M1230 1649.5h3M1310 1649.5h3M1391 1649.5h3M1559 1649.5h9M710 1654.5h89M876 1654.5h39M951 1654.5h51M1079 1654.5h75M1230 1654.5h83M1391 1654.5h49M672 1656.5h3M640 1660.5h35M1553 1660.5h40M639.5 825v36M640.5 1626v35M645.5 861v18M645.5 1608v18M646.5 1025v18M646.5 1209v19M646.5 1387v79M651.5 850v22M651.5 1406v60M651.5 1615v22M666.5 872v7M666.5 1608v7M670.5 831v19M671.5 1637v19M674.5 825v6M674.5 1656v5M677.5 1043v43M677.5 1175v34M677.5 1228v35M677.5 1353v34M683.5 1083v3M683.5 1175v3M683.5 1260v3M683.5 1353v3M699.5 872v7M699.5 1608v7M706.5 1055v28M706.5 1178v31M706.5 1228v32M706.5 1356v19M710.5 831v41M710.5 879v47M710.5 1017v8M710.5 1406v72M710.5 1584v24M710.5 1615v40M715.5 923v3M715.5 1017v3M715.5 1475v3M715.5 1584v3M739.5 862v61M739.5 1020v16M739.5 1401v74M739.5 1587v38M795.5 1626v23M798.5 1649v6M837.5 838v24M840.5 831v7M840.5 1385v12M867.5 1385v12M871.5 947v42M871.5 1030v6M871.5 1055v28M871.5 1124v85M876.5 1649v6M878.5 831v7M878.5 947v28M878.5 983v6M878.5 1030v53M878.5 1124v104M879.5 1626v23M881.5 838v24M911.5 1626v23M914.5 1649v6M924.5 1203v25M936.5 862v113M936.5 983v6M936.5 1029v54M936.5 1120v30M943.5 862v127M943.5 1029v7M943.5 1055v28M943.5 1120v23M951.5 1649v6M954.5 1626v23M956.5 1036v16M969.5 1401v5M969.5 1446v179M976.5 1401v5M976.5 1446v5M976.5 1459v166M982.5 1036v16M995.5 1451v8M997.5 1209v9M998.5 1626v23M1001.5 1228v147M1001.5 1649v6M1008.5 1228v55M1009.5 1209v9M1014.5 1209v9M1015.5 1298v77M1022.5 1228v55M1023.5 838v23M1025.5 1228v55M1026.5 831v7M1026.5 1209v9M1026.5 1375v26M1037.5 1203v25M1037.5 1451v8M1063.5 1375v26M1067.5 1055v88M1074.5 1055v95M1075.5 1203v25M1079.5 1649v6M1082.5 1626v23M1086.5 1378v13M1104.5 831v7M1106.5 1459v166M1107.5 838v23M1112.5 1378v13M1113.5 1459v166M1145.5 1228v55M1145.5 1297v78M1150.5 919v117M1150.5 1055v79M1150.5 1184v19M1150.5 1626v23M1152.5 1298v103M1153.5 1649v6M1156.5 919v29M1163.5 962v172M1163.5 1184v99M1181.5 838v23M1184.5 831v7M1194.5 1283v15M1194.5 1451v8M1219.5 831v7M1222.5 838v23M1230.5 1649v6M1233.5 1626v23M1236.5 1451v8M1244.5 1283v15M1248.5 826v5M1248.5 862v86M1248.5 962v8M1248.5 1020v263M1248.5 1359v41M1248.5 1459v166M1251.5 926v23M1251.5 1051v126M1251.5 1183v39M1251.5 1228v25M1251.5 1259v19M1260.5 1208v14M1260.5 1228v25M1260.5 1259v19M1264.5 926v23M1266.5 1359v35M1266.5 1459v166M1271.5 1051v126M1271.5 1183v25M1272.5 925v45M1272.5 1020v12M1277.5 832v64M1277.5 1233v65M1283.5 826v6M1289.5 1032v176M1296.5 1451v8M1309.5 1626v23M1312.5 1649v6M1317.5 896v29M1336.5 1233v109M1337.5 1451v8M1342.5 1217v13M1342.5 1233v102M1343.5 1032v123M1354.5 1217v13M1361.5 1052v84M1374.5 1342v52M1374.5 1400v6M1374.5 1446v5M1381.5 1342v64M1381.5 1446v5M1382.5 1335v7M1391.5 1649v6M1394.5 1626v23M1396.5 1032v20M1414.5 1459v166M1420.5 1336v7M1421.5 1451v115M1430.5 1233v103M1436.5 1217v13M1437.5 1233v103M1439.5 1592v63M1444.5 1566v26M1451.5 1032v20M1462.5 1217v13M1466.5 1336v7M1482.5 896v29M1486.5 1052v84M1503.5 1032v123M1509.5 824v24M1509.5 885v11M1515.5 837v11M1515.5 885v15M1543.5 1566v26M1552.5 582v242M1553.5 1592v9M1553.5 1634v27M1557.5 838v62M1558.5 925v20M1558.5 996v212M1558.5 1233v169M1558.5 1444v122M1558.5 1592v9M1558.5 1634v15M1568.5 1592v6M1568.5 1634v15M1569.5 582v5M1570.5 601v61M1575.5 587v6M1575.5 1598v3M1581.5 911v34M1581.5 996v12M1581.5 1032v237M1581.5 1295v61M1581.5 1402v3M1581.5 1441v3M1582.5 688v209M1586.5 1376v29M1586.5 1441v160M1592.5 1634v27M1605.5 1370v6M1610.5 593v8M1611.5 1364v6M1614.5 662v26M1628.5 1270v25M1628.5 1356v8M1644.5 832v7M1651.5 923v11M1652.5 911v12M1656.5 923v8M1675.5 923v8M1682.5 923v8M1686.5 839v58M1693.5 839v58M1693.5 901v13M1706.5 923v8M1708.5 593v8M1711.5 662v26M1713.5 923v8M1715.5 588v5M1717.5 832v7M1718.5 901v13M1720.5 582v6M1725.5 1270v25M1725.5 1356v8M1731.5 601v61M1733.5 923v8M1736.5 923v11M1738.5 582v6M1739.5 1295v61M1741.5 1364v6M1744.5 588v5M1747.5 1370v6M1750.5 688v92M1753.5 832v7M1755.5 1166v103M1756.5 619v154M1760.5 1017v12M1762.5 1174v164M1765.5 1370v6M1770.5 1338v32M1779.5 593v26M1785.5 780v5M1785.5 826v6M1785.5 839v58M1785.5 1017v12M1785.5 1032v86M1785.5 1159v7M1791.5 1026v92M1791.5 1159v7M1792.5 780v5M1792.5 826v71M1798.5 897v26M1801.5 1008v18M1829.5 773v7M1835.5 1166v8M1849.5 897v26M1852.5 1008v18M1868.5 1338v26M1871.5 773v7M1875.5 593v26M1876.5 588v5M1876.5 1166v8M1881.5 582v6M1882.5 1026v90M1889.5 1026v82M1897.5 1364v6M1899.5 582v6M1900.5 619v154M1900.5 834v63M1900.5 923v85M1902.5 1370v6M1905.5 588v5M1906.5 874v25M1906.5 1174v164M1913.5 1174v164M1916.5 874v25M1918.5 619v154M1918.5 842v158M1919.5 1370v6M1923.5 1108v8M1925.5 1364v6M1926.5 1338v26M1939.5 593v26M1941.5 1166v8M1947.5 1010v12M1948.5 773v7M1948.5 834v8M1959.5 1108v8M1973.5 1010v12M1973.5 1026v82M1978.5 1010v12M1979.5 1026v82M1983.5 1166v8M1985.5 834v8M1989.5 773v7M1990.5 1010v12M2001.5 842v158M2007.5 842v158M2012.5 1108v8M2022.5 1338v26M2036.5 587v32M2038.5 834v8M2042.5 581v6M2049.5 1108v8M2054.5 619v154M2055.5 1116v4M2055.5 1161v5M2055.5 1174v164M2055.5 1364v6M2060.5 581v6M2060.5 703v78M2060.5 1004v12M2060.5 1370v6M2061.5 1116v4M2061.5 1161v177M2066.5 587v6M2075.5 1370v6M2079.5 601v76M2081.5 677v26M2081.5 1338v32M2084.5 1004v12M2101.5 593v8M2102.5 1026v82M2109.5 1026v82M2142.5 1108v8M2179.5 677v26M2179.5 1338v26M2198.5 593v8M2204.5 703v70M2204.5 840v48M2204.5 954v46M2204.5 1026v12M2204.5 1078v78M2204.5 1223v115M2205.5 587v6M2211.5 581v6M2212.5 1364v6M2216.5 601v26M2216.5 669v8M2217.5 1370v5M2230.5 627v3M2230.5 666v3M2233.5 610v20M2233.5 666v107M2233.5 840v48M2233.5 954v84M2233.5 1078v78M2233.5 1223v141M2235.5 1346v18M2239.5 1346v29M2240.5 581v29" fill="none" stroke="#29292b" stroke-width="1" shape-rendering="crispEdges"/>
<rect x="960.1" y="1055.8" width="15.2" height="9.9" fill="#ffffff" stroke="#4a4a4a" stroke-width="0.9"/>
<line x1="960.1" y1="1063.2" x2="975.3" y2="1063.2" stroke="#4a4a4a" stroke-width="0.8"/>
<path d="M959.3 1065.7 H976.1 A0.0 0.0 0 0 1 976.1 1065.7 V1081.4 A5.2 5.2 0 0 1 970.9 1086.6 H964.5 A5.2 5.2 0 0 1 959.3 1081.4 V1065.7 A0.0 0.0 0 0 1 959.3 1065.7 Z" fill="#ffffff" stroke="#4a4a4a" stroke-width="0.9"/>
<rect x="994.2" y="1055.8" width="30.5" height="19.7" fill="#ffffff" stroke="#4a4a4a" stroke-width="0.9"/>
<rect x="995.8" y="1060.3" width="27.3" height="13.8" fill="none" stroke="#4a4a4a" stroke-width="0.8"/>
<circle cx="1009.5" cy="1064.3" r="1.1" fill="none" stroke="#4a4a4a" stroke-width="0.8"/>
<rect x="1033.3" y="1055.8" width="34.2" height="77.5" fill="#ffffff" stroke="#4a4a4a" stroke-width="0.9"/>
<path d="M1040.9 1057.6 H1060.7 A5.0 5.0 0 0 1 1065.7 1062.6 V1116.2 A14.7 14.7 0 0 1 1051.0 1130.9 H1050.6 A14.7 14.7 0 0 1 1035.9 1116.2 V1062.6 A5.0 5.0 0 0 1 1040.9 1057.6 Z" fill="none" stroke="#4a4a4a" stroke-width="0.9"/>
<circle cx="1050.8" cy="1066.6" r="1.1" fill="none" stroke="#4a4a4a" stroke-width="0.8"/>
<rect x="989.4" y="1117.5" width="27.4" height="25.5" fill="#ffffff" stroke="#4a4a4a" stroke-width="0.8"/>
<g transform="translate(1003.1,1130.2)" stroke="#222" stroke-width="0.9" fill="none"><circle r="4.4"/><path transform="rotate(0)" d="M-4.3 -0.5 Q-4.5 -5 -2.7 -9.1"/><path transform="rotate(90)" d="M-4.3 -0.5 Q-4.5 -5 -2.7 -9.1"/><path transform="rotate(180)" d="M-4.3 -0.5 Q-4.5 -5 -2.7 -9.1"/><path transform="rotate(270)" d="M-4.3 -0.5 Q-4.5 -5 -2.7 -9.1"/></g>
<rect x="1026" y="1251.5" width="9.5" height="15.2" fill="#ffffff" stroke="#4a4a4a" stroke-width="0.9"/>
<line x1="1033" y1="1251.5" x2="1033" y2="1266.7" stroke="#4a4a4a" stroke-width="0.8"/>
<path d="M1035.5 1250.7 H1052.5 A5.2 5.2 0 0 1 1057.7 1255.9 V1262.3 A5.2 5.2 0 0 1 1052.5 1267.5 H1035.5 A0.0 0.0 0 0 1 1035.5 1267.5 V1250.7 A0.0 0.0 0 0 1 1035.5 1250.7 Z" fill="#ffffff" stroke="#4a4a4a" stroke-width="0.9"/>
<rect x="1071.5" y="1263.1" width="30.3" height="20.1" fill="#ffffff" stroke="#4a4a4a" stroke-width="0.9"/>
<rect x="1073.1" y="1264.5" width="27.1" height="14.2" fill="none" stroke="#4a4a4a" stroke-width="0.8"/>
<circle cx="1086.7" cy="1274.7" r="1.1" fill="none" stroke="#4a4a4a" stroke-width="0.8"/>
<rect x="1108.4" y="1228.7" width="37" height="54.5" fill="#ffffff" stroke="#4a4a4a" stroke-width="0.9"/>
<path d="M1115.4 1230.7 H1138.4 A5.0 5.0 0 0 1 1143.4 1235.7 V1276.2 A5.0 5.0 0 0 1 1138.4 1281.2 H1115.4 A5.0 5.0 0 0 1 1110.4 1276.2 V1235.7 A5.0 5.0 0 0 1 1115.4 1230.7 Z" fill="none" stroke="#4a4a4a" stroke-width="0.9"/>
<line x1="1115.4" y1="1235.7" x2="1134.4" y2="1272.2" stroke="#4a4a4a" stroke-width="0.9"/>
<line x1="1136.9" y1="1235.7" x2="1136.9" y2="1269.7" stroke="#4a4a4a" stroke-width="0.9"/>
<line x1="1115.4" y1="1274.7" x2="1131.9" y2="1274.7" stroke="#4a4a4a" stroke-width="0.9"/>
<circle cx="1136.9" cy="1274.7" r="1.2" fill="none" stroke="#4a4a4a" stroke-width="0.8"/>
<rect x="957.5" y="1043.3" width="25" height="8.8" fill="#c5e3a8" stroke="#333" stroke-width="0.8"/>
<rect x="974.7" y="1228.7" width="26.5" height="146.3" fill="none" stroke="#3c3c3c" stroke-width="0.9"/>
<line x1="974.7" y1="1255.1" x2="1001.2" y2="1255.1" stroke="#3c3c3c" stroke-width="0.9"/>
<line x1="974.7" y1="1283.8" x2="1001.2" y2="1283.8" stroke="#3c3c3c" stroke-width="0.9"/>
<line x1="974.7" y1="1310.2" x2="1001.2" y2="1310.2" stroke="#3c3c3c" stroke-width="0.9"/>
<line x1="974.7" y1="1338.2" x2="1001.2" y2="1338.2" stroke="#3c3c3c" stroke-width="0.9"/>
<line x1="974.7" y1="1347.4" x2="1001.2" y2="1347.4" stroke="#3c3c3c" stroke-width="0.9"/>
<rect x="879" y="1347.4" width="95.7" height="27.6" fill="none" stroke="#3c3c3c" stroke-width="0.9"/>
<line x1="919.3" y1="1347.4" x2="919.3" y2="1375" stroke="#3c3c3c" stroke-width="0.9"/>
<line x1="946.5" y1="1347.4" x2="946.5" y2="1375" stroke="#3c3c3c" stroke-width="0.9"/>
<rect x="919.9" y="1351" width="26.1" height="21.5" fill="#ffffff" stroke="#4a4a4a" stroke-width="0.9"/>
<circle cx="926.4" cy="1356.4" r="2.6" fill="none" stroke="#4a4a4a" stroke-width="0.9"/>
<circle cx="939.0" cy="1356.8" r="3.4" fill="none" stroke="#4a4a4a" stroke-width="0.9"/>
<circle cx="926.9" cy="1366.7" r="3.4" fill="none" stroke="#4a4a4a" stroke-width="0.9"/>
<circle cx="939.5" cy="1367.1" r="2.6" fill="none" stroke="#4a4a4a" stroke-width="0.9"/>
<path d="M984.4 1240.3 L991.8 1243.3 M986.6 1238.1 L989.6 1245.5 M989.6 1238.1 L986.6 1245.5 M991.8 1240.3 L984.4 1243.3 " fill="none" stroke="#333" stroke-width="0.9"/>
<path transform="translate(987.5,1324.7) rotate(90)" d="M0 -5 C2 -1.5 3.2 0.2 3.2 2 A3.2 3.2 0 0 1 -3.2 2 C-3.2 0.2 -2 -1.5 0 -5Z" fill="none" stroke="#333" stroke-width="0.9"/>
<path d="M979.0 1285.5 H997.0 A2.0 2.0 0 0 1 999.0 1287.5 V1306.5 A2.0 2.0 0 0 1 997.0 1308.5 H979.0 A2.0 2.0 0 0 1 977.0 1306.5 V1287.5 A2.0 2.0 0 0 1 979.0 1285.5 Z" fill="#ffffff" stroke="#4a4a4a" stroke-width="0.9"/>
<rect x="980" y="1288.5" width="14.5" height="17" fill="none" stroke="#4a4a4a" stroke-width="0.9"/>
<line x1="999" y1="1297" x2="986.5" y2="1297" stroke="#333" stroke-width="1.6"/>
<circle cx="986.0" cy="1297.0" r="1.0" fill="none" stroke="#4a4a4a" stroke-width="0.8"/>
<rect x="739.9" y="1400.6" width="188.5" height="28" fill="none" stroke="#3c3c3c" stroke-width="0.9"/>
<line x1="767.5" y1="1400.6" x2="767.5" y2="1428.6" stroke="#3c3c3c" stroke-width="0.9"/>
<line x1="794.8" y1="1400.6" x2="794.8" y2="1428.6" stroke="#3c3c3c" stroke-width="0.9"/>
<line x1="817.5" y1="1400.6" x2="817.5" y2="1428.6" stroke="#3c3c3c" stroke-width="0.9"/>
<line x1="845.5" y1="1400.6" x2="845.5" y2="1428.6" stroke="#3c3c3c" stroke-width="0.9"/>
<line x1="873.3" y1="1400.6" x2="873.3" y2="1428.6" stroke="#3c3c3c" stroke-width="0.9"/>
<line x1="900.5" y1="1400.6" x2="900.5" y2="1428.6" stroke="#3c3c3c" stroke-width="0.9"/>
<rect x="768.3" y="1402" width="25.7" height="22.5" fill="#e6e7e8" stroke="#4a4a4a" stroke-width="0.9"/>
<circle cx="775.2" cy="1408.1" r="3.4" fill="none" stroke="#4a4a4a" stroke-width="0.9"/>
<circle cx="787.6" cy="1407.6" r="2.7" fill="none" stroke="#4a4a4a" stroke-width="0.9"/>
<circle cx="774.7" cy="1418.9" r="2.7" fill="none" stroke="#4a4a4a" stroke-width="0.9"/>
<circle cx="786.8" cy="1418.2" r="3.8" fill="none" stroke="#4a4a4a" stroke-width="0.9"/>
<path transform="translate(831.7,1415.5) rotate(0)" d="M0 -5 C2 -1.5 3.2 0.2 3.2 2 A3.2 3.2 0 0 1 -3.2 2 C-3.2 0.2 -2 -1.5 0 -5Z" fill="none" stroke="#333" stroke-width="0.9"/>
<path d="M910.7 1413.3 L918.1 1416.3 M912.9 1411.1 L915.9 1418.5 M915.9 1411.1 L912.9 1418.5 M918.1 1413.3 L910.7 1416.3 " fill="none" stroke="#333" stroke-width="0.9"/>
<path d="M849.0 1402.0 H869.8 A2.0 2.0 0 0 1 871.8 1404.0 V1422.0 A2.0 2.0 0 0 1 869.8 1424.0 H849.0 A2.0 2.0 0 0 1 847.0 1422.0 V1404.0 A2.0 2.0 0 0 1 849.0 1402.0 Z" fill="#e6e7e8" stroke="#4a4a4a" stroke-width="0.9"/>
<rect x="849.5" y="1407" width="19.8" height="13.5" fill="none" stroke="#4a4a4a" stroke-width="0.9"/>
<line x1="859.4" y1="1402.5" x2="859.4" y2="1415" stroke="#333" stroke-width="1.6"/>
<circle cx="859.4" cy="1415.5" r="1.0" fill="none" stroke="#4a4a4a" stroke-width="0.8"/>
<rect x="1053.3" y="1298.1" width="30.6" height="19.3" fill="#e6e7e8" stroke="#4a4a4a" stroke-width="0.9"/>
<rect x="1054.9" y="1302.6" width="27.4" height="13.4" fill="none" stroke="#4a4a4a" stroke-width="0.8"/>
<circle cx="1068.6" cy="1306.6" r="1.1" fill="none" stroke="#4a4a4a" stroke-width="0.8"/>
<rect x="1083" y="1365.1" width="16" height="9.9" fill="#e6e7e8" stroke="#4a4a4a" stroke-width="0.9"/>
<line x1="1083" y1="1367.6" x2="1099" y2="1367.6" stroke="#4a4a4a" stroke-width="0.8"/>
<path d="M1087.7 1344.0 H1094.3 A5.5 5.5 0 0 1 1099.8 1349.5 V1365.1 A0.0 0.0 0 0 1 1099.8 1365.1 H1082.2 A0.0 0.0 0 0 1 1082.2 1365.1 V1349.5 A5.5 5.5 0 0 1 1087.7 1344.0 Z" fill="#e6e7e8" stroke="#4a4a4a" stroke-width="0.9"/>
<rect x="1110.1" y="1297.3" width="35.4" height="77.8" fill="#e6e7e8" stroke="#4a4a4a" stroke-width="0.9"/>
<path d="M1128.0 1299.1 H1128.4 A15.3 15.3 0 0 1 1143.7 1314.4 V1367.7 A5.0 5.0 0 0 1 1138.7 1372.7 H1117.7 A5.0 5.0 0 0 1 1112.7 1367.7 V1314.4 A15.3 15.3 0 0 1 1128.0 1299.1 Z" fill="none" stroke="#4a4a4a" stroke-width="0.9"/>
<circle cx="1128.2" cy="1363.7" r="1.1" fill="none" stroke="#4a4a4a" stroke-width="0.8"/>
<rect x="1086.6" y="1378.4" width="25.6" height="12.4" fill="#ffffff" shape-rendering="crispEdges"/>
<rect x="1086.6" y="1378.4" width="25.6" height="12.4" fill="none" stroke="#333" stroke-width="0.8"/>
<rect x="841.6" y="1384.9" width="25.8" height="12.4" fill="#ffffff" stroke="#333" stroke-width="0.8"/>
<rect x="1308.6" y="1233" width="27.2" height="25" fill="#e6e7e8" stroke="#4a4a4a" stroke-width="0.8"/>
<g transform="translate(1322.2,1245.5) scale(-1,1)" stroke="#222" stroke-width="0.9" fill="none"><circle r="4.4"/><path transform="rotate(0)" d="M-4.3 -0.5 Q-4.5 -5 -2.7 -9.1"/><path transform="rotate(90)" d="M-4.3 -0.5 Q-4.5 -5 -2.7 -9.1"/><path transform="rotate(180)" d="M-4.3 -0.5 Q-4.5 -5 -2.7 -9.1"/><path transform="rotate(270)" d="M-4.3 -0.5 Q-4.5 -5 -2.7 -9.1"/></g>
<rect x="1352.1" y="1233" width="77.9" height="34.4" fill="#e6e7e8" stroke="#4a4a4a" stroke-width="0.9"/>
<path d="M1369.0 1235.4 H1423.2 A5.0 5.0 0 0 1 1428.2 1240.4 V1259.8 A5.0 5.0 0 0 1 1423.2 1264.8 H1369.0 A14.5 14.5 0 0 1 1354.5 1250.3 V1249.9 A14.5 14.5 0 0 1 1369.0 1235.4 Z" fill="none" stroke="#4a4a4a" stroke-width="0.9"/>
<circle cx="1419.2" cy="1250.1" r="1.1" fill="none" stroke="#4a4a4a" stroke-width="0.8"/>
<rect x="1410.3" y="1276.5" width="19.7" height="30.2" fill="#e6e7e8" stroke="#4a4a4a" stroke-width="0.9"/>
<rect x="1411.7" y="1278.1" width="13.8" height="27" fill="none" stroke="#4a4a4a" stroke-width="0.8"/>
<circle cx="1421.5" cy="1291.6" r="1.1" fill="none" stroke="#4a4a4a" stroke-width="0.8"/>
<rect x="1343.5" y="1292.4" width="9.3" height="15.6" fill="#e6e7e8" stroke="#4a4a4a" stroke-width="0.9"/>
<line x1="1350.3" y1="1292.4" x2="1350.3" y2="1308" stroke="#4a4a4a" stroke-width="0.8"/>
<path d="M1352.8 1291.6 H1369.3 A5.3 5.3 0 0 1 1374.6 1296.9 V1303.5 A5.3 5.3 0 0 1 1369.3 1308.8 H1352.8 A0.0 0.0 0 0 1 1352.8 1308.8 V1291.6 A0.0 0.0 0 0 1 1352.8 1291.6 Z" fill="#e6e7e8" stroke="#4a4a4a" stroke-width="0.9"/>
<rect x="1694.1" y="841.4" width="19.7" height="30" fill="#e6e7e8" stroke="#4a4a4a" stroke-width="0.9"/>
<rect x="1698.6" y="843" width="13.8" height="26.8" fill="none" stroke="#4a4a4a" stroke-width="0.8"/>
<circle cx="1702.6" cy="856.4" r="1.1" fill="none" stroke="#4a4a4a" stroke-width="0.8"/>
<rect x="1721" y="887.2" width="16" height="10.1" fill="#e6e7e8" stroke="#4a4a4a" stroke-width="0.9"/>
<line x1="1721" y1="889.7" x2="1737" y2="889.7" stroke="#4a4a4a" stroke-width="0.8"/>
<path d="M1725.7 865.8 H1732.3 A5.5 5.5 0 0 1 1737.8 871.3 V887.2 A0.0 0.0 0 0 1 1737.8 887.2 H1720.2 A0.0 0.0 0 0 1 1720.2 887.2 V871.3 A5.5 5.5 0 0 1 1725.7 865.8 Z" fill="#e6e7e8" stroke="#4a4a4a" stroke-width="0.9"/>
<rect x="1744.1" y="856.2" width="41.2" height="41.1" fill="#e6e7e8" stroke="#4a4a4a" stroke-width="0.9"/>
<path d="M1751.1 858.2 H1778.3 A5.0 5.0 0 0 1 1783.3 863.2 V890.3 A5.0 5.0 0 0 1 1778.3 895.3 H1751.1 A5.0 5.0 0 0 1 1746.1 890.3 V863.2 A5.0 5.0 0 0 1 1751.1 858.2 Z" fill="none" stroke="#4a4a4a" stroke-width="0.9"/>
<line x1="1751.1" y1="863.2" x2="1774.3" y2="886.3" stroke="#4a4a4a" stroke-width="0.9"/>
<line x1="1776.8" y1="863.2" x2="1776.8" y2="883.8" stroke="#4a4a4a" stroke-width="0.9"/>
<line x1="1751.1" y1="888.8" x2="1771.8" y2="888.8" stroke="#4a4a4a" stroke-width="0.9"/>
<circle cx="1776.8" cy="888.8" r="1.2" fill="none" stroke="#4a4a4a" stroke-width="0.8"/>
<rect x="1694.1" y="901.8" width="24.4" height="12.2" fill="#e6e7e8" shape-rendering="crispEdges"/>
<rect x="1694.1" y="901.8" width="24.4" height="12.2" fill="none" stroke="#333" stroke-width="0.8"/>
<rect x="1918.6" y="841.6" width="25.5" height="27.4" fill="#e6e7e8" stroke="#4a4a4a" stroke-width="0.8"/>
<g transform="translate(1931.3,855.3) scale(-1,1)" stroke="#222" stroke-width="0.9" fill="none"><circle r="4.4"/><path transform="rotate(0)" d="M-4.3 -0.5 Q-4.5 -5 -2.7 -9.1"/><path transform="rotate(90)" d="M-4.3 -0.5 Q-4.5 -5 -2.7 -9.1"/><path transform="rotate(180)" d="M-4.3 -0.5 Q-4.5 -5 -2.7 -9.1"/><path transform="rotate(270)" d="M-4.3 -0.5 Q-4.5 -5 -2.7 -9.1"/></g>
<rect x="1907.5" y="874.5" width="8.2" height="24.5" fill="#ffffff" shape-rendering="crispEdges"/>
<rect x="1907.5" y="874.5" width="8.2" height="24.5" fill="none" stroke="#333" stroke-width="0.8"/>
<rect x="1918.6" y="892" width="9.4" height="15.8" fill="#e6e7e8" stroke="#4a4a4a" stroke-width="0.9"/>
<line x1="1925.5" y1="892" x2="1925.5" y2="907.8" stroke="#4a4a4a" stroke-width="0.8"/>
<path d="M1928.0 891.2 H1944.5 A5.4 5.4 0 0 1 1949.9 896.6 V903.2 A5.4 5.4 0 0 1 1944.5 908.6 H1928.0 A0.0 0.0 0 0 1 1928.0 908.6 V891.2 A0.0 0.0 0 0 1 1928.0 891.2 Z" fill="#e6e7e8" stroke="#4a4a4a" stroke-width="0.9"/>
<rect x="1918.6" y="926.7" width="20.1" height="29.9" fill="#e6e7e8" stroke="#4a4a4a" stroke-width="0.9"/>
<rect x="1923.1" y="928.3" width="14.2" height="26.7" fill="none" stroke="#4a4a4a" stroke-width="0.8"/>
<circle cx="1927.1" cy="941.7" r="1.1" fill="none" stroke="#4a4a4a" stroke-width="0.8"/>
<rect x="1918.6" y="965.8" width="78.1" height="34.4" fill="#e6e7e8" stroke="#4a4a4a" stroke-width="0.9"/>
<path d="M1926.0 968.2 H1980.4 A14.5 14.5 0 0 1 1994.9 982.7 V983.1 A14.5 14.5 0 0 1 1980.4 997.6 H1926.0 A5.0 5.0 0 0 1 1921.0 992.6 V973.2 A5.0 5.0 0 0 1 1926.0 968.2 Z" fill="none" stroke="#4a4a4a" stroke-width="0.9"/>
<circle cx="1930.0" cy="982.9" r="1.1" fill="none" stroke="#4a4a4a" stroke-width="0.8"/>
<rect x="2007.7" y="841.2" width="27.8" height="158.7" fill="none" stroke="#3c3c3c" stroke-width="0.9"/>
<line x1="2007.7" y1="868.7" x2="2035.5" y2="868.7" stroke="#3c3c3c" stroke-width="0.9"/>
<line x1="2007.7" y1="896" x2="2035.5" y2="896" stroke="#3c3c3c" stroke-width="0.9"/>
<line x1="2007.7" y1="923.8" x2="2035.5" y2="923.8" stroke="#3c3c3c" stroke-width="0.9"/>
<line x1="2007.7" y1="972.7" x2="2035.5" y2="972.7" stroke="#3c3c3c" stroke-width="0.9"/>
<rect x="2007.7" y="972.7" width="111" height="27.2" fill="none" stroke="#3c3c3c" stroke-width="0.9"/>
<line x1="2035.5" y1="972.7" x2="2035.5" y2="999.9" stroke="#3c3c3c" stroke-width="0.9"/>
<line x1="2062.5" y1="972.7" x2="2062.5" y2="999.9" stroke="#3c3c3c" stroke-width="0.9"/>
<line x1="2090.9" y1="972.7" x2="2090.9" y2="999.9" stroke="#3c3c3c" stroke-width="0.9"/>
<path d="M2017.8 853.5 L2025.2 856.5 M2020.0 851.3 L2023.0 858.7 M2023.0 851.3 L2020.0 858.7 M2025.2 853.5 L2017.8 856.5 " fill="none" stroke="#333" stroke-width="0.9"/>
<rect x="2008.5" y="896.5" width="22.5" height="26.5" fill="#e6e7e8" stroke="#4a4a4a" stroke-width="0.9"/>
<circle cx="2014.6" cy="903.7" r="3.4" fill="none" stroke="#4a4a4a" stroke-width="0.9"/>
<circle cx="2025.4" cy="903.1" r="2.7" fill="none" stroke="#4a4a4a" stroke-width="0.9"/>
<circle cx="2014.1" cy="916.4" r="2.7" fill="none" stroke="#4a4a4a" stroke-width="0.9"/>
<circle cx="2024.7" cy="915.6" r="3.8" fill="none" stroke="#4a4a4a" stroke-width="0.9"/>
<path transform="translate(2049.1,985.5) rotate(180)" d="M0 -5 C2 -1.5 3.2 0.2 3.2 2 A3.2 3.2 0 0 1 -3.2 2 C-3.2 0.2 -2 -1.5 0 -5Z" fill="none" stroke="#333" stroke-width="0.9"/>
<path d="M2066.0 976.0 H2087.4 A2.0 2.0 0 0 1 2089.4 978.0 V996.5 A2.0 2.0 0 0 1 2087.4 998.5 H2066.0 A2.0 2.0 0 0 1 2064.0 996.5 V978.0 A2.0 2.0 0 0 1 2066.0 976.0 Z" fill="#e6e7e8" stroke="#4a4a4a" stroke-width="0.9"/>
<rect x="2066.5" y="979.5" width="20.4" height="14" fill="none" stroke="#4a4a4a" stroke-width="0.9"/>
<line x1="2076.7" y1="998" x2="2076.7" y2="985.5" stroke="#333" stroke-width="1.6"/>
<circle cx="2076.7" cy="985.0" r="1.0" fill="none" stroke="#4a4a4a" stroke-width="0.8"/>
<rect x="1582.2" y="1032.2" width="203.4" height="27.7" fill="none" stroke="#3c3c3c" stroke-width="0.9"/>
<line x1="1609.8" y1="1032.2" x2="1609.8" y2="1059.9" stroke="#3c3c3c" stroke-width="0.9"/>
<line x1="1637.1" y1="1032.2" x2="1637.1" y2="1059.9" stroke="#3c3c3c" stroke-width="0.9"/>
<line x1="1665.1" y1="1032.2" x2="1665.1" y2="1059.9" stroke="#3c3c3c" stroke-width="0.9"/>
<line x1="1693" y1="1032.2" x2="1693" y2="1059.9" stroke="#3c3c3c" stroke-width="0.9"/>
<line x1="1720.9" y1="1032.2" x2="1720.9" y2="1059.9" stroke="#3c3c3c" stroke-width="0.9"/>
<line x1="1748" y1="1032.2" x2="1748" y2="1059.9" stroke="#3c3c3c" stroke-width="0.9"/>
<path d="M1592.3 1045.3 L1599.7 1048.3 M1594.5 1043.1 L1597.5 1050.5 M1597.5 1043.1 L1594.5 1050.5 M1599.7 1045.3 L1592.3 1048.3 " fill="none" stroke="#333" stroke-width="0.9"/>
<rect x="1637.8" y="1033.5" width="26.7" height="22.5" fill="#e6e7e8" stroke="#4a4a4a" stroke-width="0.9"/>
<circle cx="1644.5" cy="1039.1" r="2.7" fill="none" stroke="#4a4a4a" stroke-width="0.9"/>
<circle cx="1657.3" cy="1039.6" r="3.6" fill="none" stroke="#4a4a4a" stroke-width="0.9"/>
<circle cx="1645.0" cy="1049.9" r="3.6" fill="none" stroke="#4a4a4a" stroke-width="0.9"/>
<circle cx="1657.8" cy="1050.4" r="2.7" fill="none" stroke="#4a4a4a" stroke-width="0.9"/>
<path transform="translate(1707.0,1047.0) rotate(0)" d="M0 -5 C2 -1.5 3.2 0.2 3.2 2 A3.2 3.2 0 0 1 -3.2 2 C-3.2 0.2 -2 -1.5 0 -5Z" fill="none" stroke="#333" stroke-width="0.9"/>
<path d="M1724.4 1033.7 H1744.5 A2.0 2.0 0 0 1 1746.5 1035.7 V1053.5 A2.0 2.0 0 0 1 1744.5 1055.5 H1724.4 A2.0 2.0 0 0 1 1722.4 1053.5 V1035.7 A2.0 2.0 0 0 1 1724.4 1033.7 Z" fill="#e6e7e8" stroke="#4a4a4a" stroke-width="0.9"/>
<rect x="1724.9" y="1038.7" width="19.1" height="13.3" fill="none" stroke="#4a4a4a" stroke-width="0.9"/>
<line x1="1734.5" y1="1034.2" x2="1734.5" y2="1046.7" stroke="#333" stroke-width="1.6"/>
<circle cx="1734.5" cy="1047.2" r="1.0" fill="none" stroke="#4a4a4a" stroke-width="0.8"/>
<rect x="1890.2" y="1026.1" width="39.9" height="41.4" fill="#e6e7e8" stroke="#4a4a4a" stroke-width="0.9"/>
<path d="M1897.2 1028.1 H1923.1 A5.0 5.0 0 0 1 1928.1 1033.1 V1060.5 A5.0 5.0 0 0 1 1923.1 1065.5 H1897.2 A5.0 5.0 0 0 1 1892.2 1060.5 V1033.1 A5.0 5.0 0 0 1 1897.2 1028.1 Z" fill="none" stroke="#4a4a4a" stroke-width="0.9"/>
<line x1="1923.1" y1="1060.5" x2="1901.2" y2="1037.1" stroke="#4a4a4a" stroke-width="0.9"/>
<line x1="1898.7" y1="1060.5" x2="1898.7" y2="1039.6" stroke="#4a4a4a" stroke-width="0.9"/>
<line x1="1923.1" y1="1034.6" x2="1903.7" y2="1034.6" stroke="#4a4a4a" stroke-width="0.9"/>
<circle cx="1898.7" cy="1034.6" r="1.2" fill="none" stroke="#4a4a4a" stroke-width="0.8"/>
<rect x="1940" y="1025.6" width="16.1" height="10.3" fill="#e6e7e8" stroke="#4a4a4a" stroke-width="0.9"/>
<line x1="1940" y1="1033.4" x2="1956.1" y2="1033.4" stroke="#4a4a4a" stroke-width="0.8"/>
<path d="M1939.2 1035.9 H1956.9 A0.0 0.0 0 0 1 1956.9 1035.9 V1052.3 A5.5 5.5 0 0 1 1951.4 1057.8 H1944.7 A5.5 5.5 0 0 1 1939.2 1052.3 V1035.9 A0.0 0.0 0 0 1 1939.2 1035.9 Z" fill="#e6e7e8" stroke="#4a4a4a" stroke-width="0.9"/>
<rect x="1890.2" y="1071.6" width="19.3" height="30.3" fill="#e6e7e8" stroke="#4a4a4a" stroke-width="0.9"/>
<rect x="1894.7" y="1073.2" width="13.4" height="27.1" fill="none" stroke="#4a4a4a" stroke-width="0.8"/>
<circle cx="1898.7" cy="1086.8" r="1.1" fill="none" stroke="#4a4a4a" stroke-width="0.8"/>
<rect x="1979.7" y="1040.7" width="9.4" height="16.3" fill="#e6e7e8" stroke="#4a4a4a" stroke-width="0.9"/>
<line x1="1986.6" y1="1040.7" x2="1986.6" y2="1057" stroke="#4a4a4a" stroke-width="0.8"/>
<path d="M1989.1 1039.9 H2005.4 A5.5 5.5 0 0 1 2010.9 1045.4 V1052.3 A5.5 5.5 0 0 1 2005.4 1057.8 H1989.1 A0.0 0.0 0 0 1 1989.1 1057.8 V1039.9 A0.0 0.0 0 0 1 1989.1 1039.9 Z" fill="#e6e7e8" stroke="#4a4a4a" stroke-width="0.9"/>
<rect x="2029.4" y="1026.1" width="30.3" height="20.7" fill="#e6e7e8" stroke="#4a4a4a" stroke-width="0.9"/>
<rect x="2031" y="1030.6" width="27.1" height="14.8" fill="none" stroke="#4a4a4a" stroke-width="0.8"/>
<circle cx="2044.5" cy="1034.6" r="1.1" fill="none" stroke="#4a4a4a" stroke-width="0.8"/>
<rect x="1979.7" y="1080.4" width="24.8" height="27.6" fill="#e6e7e8" stroke="#4a4a4a" stroke-width="0.8"/>
<g transform="translate(1992.1,1094.2)" stroke="#222" stroke-width="0.9" fill="none"><circle r="4.4"/><path transform="rotate(0)" d="M-4.3 -0.5 Q-4.5 -5 -2.7 -9.1"/><path transform="rotate(90)" d="M-4.3 -0.5 Q-4.5 -5 -2.7 -9.1"/><path transform="rotate(180)" d="M-4.3 -0.5 Q-4.5 -5 -2.7 -9.1"/><path transform="rotate(270)" d="M-4.3 -0.5 Q-4.5 -5 -2.7 -9.1"/></g>
<rect x="2068.8" y="1026.1" width="33.6" height="78.6" fill="#e6e7e8" stroke="#4a4a4a" stroke-width="0.9"/>
<path d="M2076.4 1027.9 H2095.6 A5.0 5.0 0 0 1 2100.6 1032.9 V1087.9 A14.4 14.4 0 0 1 2086.2 1102.3 H2085.8 A14.4 14.4 0 0 1 2071.4 1087.9 V1032.9 A5.0 5.0 0 0 1 2076.4 1027.9 Z" fill="none" stroke="#4a4a4a" stroke-width="0.9"/>
<circle cx="2086.0" cy="1036.9" r="1.1" fill="none" stroke="#4a4a4a" stroke-width="0.8"/>
<path d="M1150.2 861.7 L1150.2 868.9 M1150.2 883.2 L1150.2 897.5 M1150.2 911.8 L1150.2 919.0 " fill="none" stroke="#686868" stroke-width="1.25"/>
<path d="M878.7 1203.3 L893.7 1203.3 M908.7 1203.3 L923.7 1203.3 " fill="none" stroke="#686868" stroke-width="1.25"/>
<path d="M1074.8 1150.0 L1074.8 1156.7 M1074.8 1170.0 L1074.8 1183.3 M1074.8 1196.6 L1074.8 1203.3 " fill="none" stroke="#686868" stroke-width="1.25"/>
<path d="M877.6 1230.6 L877.6 1243.5 M877.6 1256.4 L877.6 1269.3 M877.6 1282.2 L877.6 1295.2 M877.6 1308.1 L877.6 1321.0 M877.6 1333.9 L877.6 1346.8 " fill="none" stroke="#686868" stroke-width="1.25"/>
<path d="M928.4 1428.6 L928.4 1441.7 M928.4 1454.7 L928.4 1467.8 M928.4 1480.2 L928.4 1493.3 M928.4 1505.7 L928.4 1521.3 " fill="none" stroke="#686868" stroke-width="1.25"/>
<path d="M739.9 1521.3 L750.0 1521.3 M762.4 1521.3 L775.5 1521.3 M788.2 1521.3 L801.7 1521.3 M814.3 1521.3 L827.8 1521.3 M840.2 1521.3 L853.6 1521.3 M866.1 1521.3 L879.5 1521.3 M892.2 1521.3 L905.7 1521.3 M918.1 1521.3 L928.4 1521.3 " fill="none" stroke="#686868" stroke-width="1.25"/>
<path d="M1152.9 1400.0 L1167.6 1400.0 M1180.1 1400.0 L1194.0 1400.0 M1206.3 1400.0 L1220.2 1400.0 M1232.5 1400.0 L1247.3 1400.0 " fill="none" stroke="#686868" stroke-width="1.25"/>
<path d="M1257.0 1297.7 L1257.0 1307.5 M1257.0 1321.6 L1257.0 1334.5 M1257.0 1347.4 L1257.0 1358.8 " fill="none" stroke="#686868" stroke-width="1.25"/>
<path d="M1467.5 1341.7 L1480.4 1341.7 M1493.3 1341.7 L1506.2 1341.7 M1519.1 1341.7 L1532.0 1341.7 M1544.9 1341.7 L1557.8 1341.7 " fill="none" stroke="#686868" stroke-width="1.25"/>
<path d="M1582.8 832.0 L1593.9 832.0 M1607.3 832.0 L1620.1 832.0 M1632.9 832.0 L1644.3 832.0 " fill="none" stroke="#686868" stroke-width="1.25"/>
<path d="M1900.1 780.5 L1900.1 787.2 M1900.1 800.7 L1900.1 814.1 M1900.1 827.6 L1900.1 834.3 " fill="none" stroke="#686868" stroke-width="1.25"/>
<path d="M2039.2 780.5 L2039.2 787.2 M2039.2 800.7 L2039.2 814.1 M2039.2 827.6 L2039.2 834.3 " fill="none" stroke="#686868" stroke-width="1.25"/>
<path d="M1792.3 1115.2 L1805.2 1115.2 M1818.1 1115.2 L1831.0 1115.2 M1843.8 1115.2 L1856.7 1115.2 M1869.6 1115.2 L1882.5 1115.2 " fill="none" stroke="#686868" stroke-width="1.25"/>
<path d="M2142.9 1115.2 L2155.2 1115.2 M2167.5 1115.2 L2179.8 1115.2 M2192.1 1115.2 L2204.4 1115.2 " fill="none" stroke="#686868" stroke-width="1.25"/>
<text x="795.8" y="962.3" font-size="18.2" font-weight="700" fill="#4d4d4f" textLength="68.8" lengthAdjust="spacingAndGlyphs">14,3 м²</text>
<text x="1019.8" y="959.3" font-size="18.2" font-weight="700" fill="#4d4d4f" textLength="62.3" lengthAdjust="spacingAndGlyphs">17,1 м²</text>
<text x="1172.1" y="915.2" font-size="18.2" font-weight="700" fill="#4d4d4f" textLength="60.0" lengthAdjust="spacingAndGlyphs">3,9 м²</text>
<text x="764.6" y="1144.0" font-size="18.2" font-weight="700" fill="#4d4d4f" textLength="63.2" lengthAdjust="spacingAndGlyphs">11,8 м²</text>
<text x="961.0" y="1107.7" font-size="18.2" font-weight="700" fill="#4d4d4f" textLength="59.4" lengthAdjust="spacingAndGlyphs">5,2 м²</text>
<text x="1083.1" y="1137.0" font-size="18.2" font-weight="700" fill="#4d4d4f" textLength="59.0" lengthAdjust="spacingAndGlyphs">5,3 м²</text>
<text x="948.2" y="1179.4" font-size="18.2" font-weight="700" fill="#4d4d4f" textLength="59.9" lengthAdjust="spacingAndGlyphs">9,4 м²</text>
<text x="1043.3" y="1247.5" font-size="18.2" font-weight="700" fill="#4d4d4f" textLength="59.6" lengthAdjust="spacingAndGlyphs">3,2 м²</text>
<text x="764.6" y="1307.9" font-size="18.2" font-weight="700" fill="#4d4d4f" textLength="63.2" lengthAdjust="spacingAndGlyphs">11,9 м²</text>
<text x="903.8" y="1303.3" font-size="18.2" font-weight="700" fill="#4d4d4f" textLength="60.2" lengthAdjust="spacingAndGlyphs">9,2 м²</text>
<text x="1033.5" y="822.8" font-size="19" font-weight="700" fill="#4d4d4f" textLength="118.8" lengthAdjust="spacingAndGlyphs">0,6/(2,0) м²</text>
<text transform="translate(686.1,1009.3) rotate(-90)" font-size="19" font-weight="700" fill="#4d4d4f" textLength="116.1" lengthAdjust="spacingAndGlyphs">2,2/(4,3) м²</text>
<text transform="translate(670.2,1186.3) rotate(-90)" font-size="19" font-weight="700" fill="#4d4d4f" textLength="104.3" lengthAdjust="spacingAndGlyphs">1,1/(2,1) м²</text>
<text transform="translate(669.8,1346.8) rotate(-90)" font-size="19" font-weight="700" fill="#4d4d4f" textLength="85.5" lengthAdjust="spacingAndGlyphs">1,0/(2,0)</text>
</svg>
</body></html>
